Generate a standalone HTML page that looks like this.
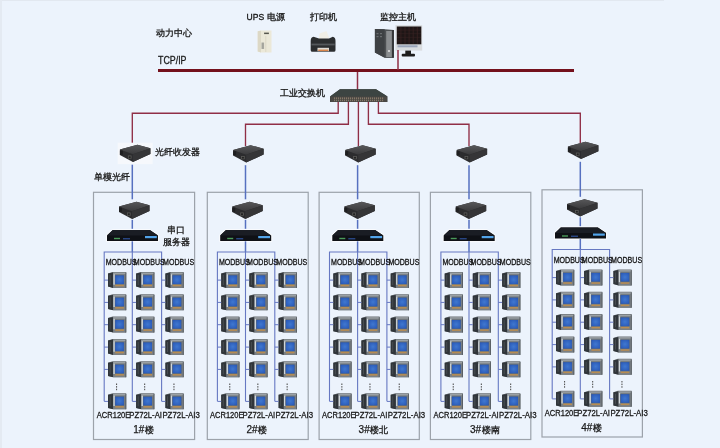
<!DOCTYPE html>
<html><head><meta charset="utf-8"><style>
html,body{margin:0;padding:0;background:#ECF3FC;}
svg{position:absolute;left:0;top:0;font-family:"Liberation Sans",sans-serif;will-change:transform;}
</style></head><body>
<svg width="720" height="448" viewBox="0 0 720 448">
<defs><linearGradient id="ftg" x1="0" y1="0" x2="0" y2="1"><stop offset="0" stop-color="#58585a"/><stop offset="1" stop-color="#3a3a3c"/></linearGradient><radialGradient id="scr" cx="0.5" cy="0.5" r="0.6"><stop offset="0" stop-color="#4078d0"/><stop offset="1" stop-color="#2a5ab8"/></radialGradient></defs>
<rect x="0" y="0" width="664" height="1" fill="#e2e8f0"/><rect x="0" y="0" width="2" height="448" fill="#e4eaf2"/><text x="156" y="35.5" font-size="9" text-anchor="start" font-weight="normal" fill="#1a1a1a" stroke="#1a1a1a" stroke-width="0.32">动力中心</text><text x="246.6" y="19.6" font-size="9.2" text-anchor="start" font-weight="normal" fill="#1a1a1a" stroke="#1a1a1a" stroke-width="0.35" textLength="17.6" lengthAdjust="spacingAndGlyphs">UPS</text><text x="267" y="20" font-size="9" text-anchor="start" font-weight="normal" fill="#1a1a1a" stroke="#1a1a1a" stroke-width="0.32">电源</text><text x="310" y="20" font-size="9" text-anchor="start" font-weight="normal" fill="#1a1a1a" stroke="#1a1a1a" stroke-width="0.32">打印机</text><text x="379.5" y="20" font-size="9" text-anchor="start" font-weight="normal" fill="#1a1a1a" stroke="#1a1a1a" stroke-width="0.32">监控主机</text><text x="158" y="64.2" font-size="10.3" text-anchor="start" font-weight="normal" fill="#1a1a1a" stroke="#1a1a1a" stroke-width="0.3" textLength="28.5" lengthAdjust="spacingAndGlyphs">TCP/IP</text><text x="279.5" y="95.5" font-size="9" text-anchor="start" font-weight="normal" fill="#1a1a1a" stroke="#1a1a1a" stroke-width="0.32">工业交换机</text><polygon points="257.7,31.2 260.5,30.4 271.5,30.6 271.5,52.5 261,52.5 257.7,51.6" fill="#ebe8d8"/><polygon points="257.7,31.2 261,30.8 261,52.5 257.7,51.6" fill="#dcd8c6"/><rect x="264.1" y="32.6" width="4.8" height="1.5" fill="#56564e"/><rect x="261.5" y="42.5" width="2.6" height="6.5" fill="#b4b4ac"/><line x1="262.3" y1="42.8" x2="262.3" y2="48.8" stroke="#8a8a84" stroke-width="0.4"/><line x1="263.3" y1="42.8" x2="263.3" y2="48.8" stroke="#8a8a84" stroke-width="0.4"/><line x1="265.8" y1="36" x2="265.8" y2="52" stroke="#d0ccb8" stroke-width="0.6"/><polygon points="319.5,33.5 326.5,31 329.5,38.5 319,39.5" fill="#f0eee6"/><path d="M310.7,41 Q310.7,37.2 313.5,36.8 L319,38.6 L329,38.6 L332.8,36.8 Q335.5,37.2 335.5,41 L335.5,50.2 Q335.5,51.8 333.8,51.8 L312.4,51.8 Q310.7,51.8 310.7,50.2 Z" fill="#2c2e30"/><rect x="311.5" y="43.6" width="23.2" height="1.8" fill="#55595c"/><rect x="317.5" y="47.8" width="11.5" height="3.4" fill="#dedcd6"/><rect x="318.2" y="49.6" width="10.2" height="1.3" fill="#d87a3a"/><polygon points="374.9,29.1 384.7,29.3 393.7,30 393.7,57.7 384.7,57.7 374.9,52.4" fill="#4a4d50"/><polygon points="374.9,29.1 384.7,29.3 384.7,57.7 374.9,52.4" fill="#3e4144"/><rect x="376.5" y="33" width="2" height="1.2" fill="#6a6d70"/><rect x="380" y="33" width="2" height="1.2" fill="#6a6d70"/><rect x="376.5" y="36" width="2" height="1.2" fill="#6a6d70"/><rect x="380" y="36" width="2" height="1.2" fill="#6a6d70"/><rect x="384.7" y="30" width="9" height="27.7" fill="#4e5154"/><rect x="386.2" y="31" width="5.6" height="26" fill="#8a8d90"/><rect x="392.3" y="30" width="1.4" height="27.7" fill="#2a2c2e"/><circle cx="389" cy="51" r="1.1" fill="#e0e0e0"/><rect x="395.4" y="25.1" width="26.8" height="25.5" fill="#d9dcdf"/><rect x="396.8" y="26.5" width="24.5" height="17.8" fill="#1e1616"/><line x1="400.9" y1="27" x2="400.9" y2="44" stroke="#4a2a2a" stroke-width="0.5"/><line x1="405.0" y1="27" x2="405.0" y2="44" stroke="#4a2a2a" stroke-width="0.5"/><line x1="409.1" y1="27" x2="409.1" y2="44" stroke="#4a2a2a" stroke-width="0.5"/><line x1="413.2" y1="27" x2="413.2" y2="44" stroke="#4a2a2a" stroke-width="0.5"/><line x1="417.3" y1="27" x2="417.3" y2="44" stroke="#4a2a2a" stroke-width="0.5"/><line x1="397" y1="30.1" x2="421" y2="30.1" stroke="#3a2424" stroke-width="0.5"/><line x1="397" y1="33.7" x2="421" y2="33.7" stroke="#3a2424" stroke-width="0.5"/><line x1="397" y1="37.3" x2="421" y2="37.3" stroke="#3a2424" stroke-width="0.5"/><line x1="397" y1="40.9" x2="421" y2="40.9" stroke="#3a2424" stroke-width="0.5"/><rect x="397.5" y="45.3" width="20" height="2" fill="#9aa4b8"/><rect x="405.3" y="50.6" width="5.7" height="3.5" fill="#1e1e1e"/><rect x="401.7" y="53.7" width="13.3" height="2.7" rx="1" fill="#1e1e1e"/><rect x="158" y="69" width="416" height="3" fill="#74101c"/><line x1="398" y1="50" x2="398" y2="70" stroke="#902e46" stroke-width="1.5"/><line x1="357.5" y1="72" x2="357.5" y2="90" stroke="#902e46" stroke-width="1.5"/><polygon points="340.00,89.20 376.00,89.20 387.50,96.50 387.50,102.00 330.00,102.00 330.00,96.50" fill="#3a3e3c"/><polygon points="340.00,89.20 376.00,89.20 387.50,96.50 330.00,96.50" fill="#3c4442"/><rect x="330.50" y="96.50" width="56.5" height="5.5" fill="#4a4844"/><rect x="334.00" y="97.40" width="1.1" height="1.6" fill="#857868"/><rect x="334.00" y="99.60" width="1.1" height="1.6" fill="#857868"/><rect x="336.00" y="97.40" width="1.1" height="1.6" fill="#857868"/><rect x="336.00" y="99.60" width="1.1" height="1.6" fill="#857868"/><rect x="338.00" y="97.40" width="1.1" height="1.6" fill="#857868"/><rect x="338.00" y="99.60" width="1.1" height="1.6" fill="#857868"/><rect x="340.00" y="97.40" width="1.1" height="1.6" fill="#857868"/><rect x="340.00" y="99.60" width="1.1" height="1.6" fill="#857868"/><rect x="342.00" y="97.40" width="1.1" height="1.6" fill="#857868"/><rect x="342.00" y="99.60" width="1.1" height="1.6" fill="#857868"/><rect x="344.00" y="97.40" width="1.1" height="1.6" fill="#857868"/><rect x="344.00" y="99.60" width="1.1" height="1.6" fill="#857868"/><rect x="346.00" y="97.40" width="1.1" height="1.6" fill="#857868"/><rect x="346.00" y="99.60" width="1.1" height="1.6" fill="#857868"/><rect x="348.00" y="97.40" width="1.1" height="1.6" fill="#857868"/><rect x="348.00" y="99.60" width="1.1" height="1.6" fill="#857868"/><rect x="350.00" y="97.40" width="1.1" height="1.6" fill="#857868"/><rect x="350.00" y="99.60" width="1.1" height="1.6" fill="#857868"/><rect x="352.00" y="97.40" width="1.1" height="1.6" fill="#857868"/><rect x="352.00" y="99.60" width="1.1" height="1.6" fill="#857868"/><rect x="354.00" y="97.40" width="1.1" height="1.6" fill="#857868"/><rect x="354.00" y="99.60" width="1.1" height="1.6" fill="#857868"/><rect x="356.00" y="97.40" width="1.1" height="1.6" fill="#857868"/><rect x="356.00" y="99.60" width="1.1" height="1.6" fill="#857868"/><rect x="358.00" y="97.40" width="1.1" height="1.6" fill="#857868"/><rect x="358.00" y="99.60" width="1.1" height="1.6" fill="#857868"/><rect x="360.00" y="97.40" width="1.1" height="1.6" fill="#857868"/><rect x="360.00" y="99.60" width="1.1" height="1.6" fill="#857868"/><rect x="362.00" y="97.40" width="1.1" height="1.6" fill="#857868"/><rect x="362.00" y="99.60" width="1.1" height="1.6" fill="#857868"/><rect x="364.00" y="97.40" width="1.1" height="1.6" fill="#857868"/><rect x="364.00" y="99.60" width="1.1" height="1.6" fill="#857868"/><rect x="366.00" y="97.40" width="1.1" height="1.6" fill="#857868"/><rect x="366.00" y="99.60" width="1.1" height="1.6" fill="#857868"/><rect x="368.00" y="97.40" width="1.1" height="1.6" fill="#857868"/><rect x="368.00" y="99.60" width="1.1" height="1.6" fill="#857868"/><rect x="370.00" y="97.40" width="1.1" height="1.6" fill="#857868"/><rect x="370.00" y="99.60" width="1.1" height="1.6" fill="#857868"/><rect x="372.00" y="97.40" width="1.1" height="1.6" fill="#857868"/><rect x="372.00" y="99.60" width="1.1" height="1.6" fill="#857868"/><rect x="374.00" y="97.40" width="1.1" height="1.6" fill="#857868"/><rect x="374.00" y="99.60" width="1.1" height="1.6" fill="#857868"/><rect x="376.00" y="97.40" width="1.1" height="1.6" fill="#857868"/><rect x="376.00" y="99.60" width="1.1" height="1.6" fill="#857868"/><rect x="378.00" y="97.40" width="1.1" height="1.6" fill="#857868"/><rect x="378.00" y="99.60" width="1.1" height="1.6" fill="#857868"/><rect x="380.00" y="97.40" width="1.1" height="1.6" fill="#857868"/><rect x="380.00" y="99.60" width="1.1" height="1.6" fill="#857868"/><rect x="382.00" y="97.40" width="1.1" height="1.6" fill="#857868"/><rect x="382.00" y="99.60" width="1.1" height="1.6" fill="#857868"/><polyline points="338.2,102 338.2,113.2 132.3,113.2 132.3,145" fill="none" stroke="#902e46" stroke-width="1.35"/><polyline points="348.4,102 348.4,124.2 245.5,124.2 245.5,146" fill="none" stroke="#902e46" stroke-width="1.35"/><line x1="358.4" y1="102" x2="358.4" y2="146" stroke="#902e46" stroke-width="1.35"/><polyline points="368.4,102 368.4,124.2 469.0,124.2 469.0,146" fill="none" stroke="#902e46" stroke-width="1.35"/><polyline points="378.4,102 378.4,113.2 580.3,113.2 580.3,143" fill="none" stroke="#902e46" stroke-width="1.35"/><text x="155" y="154.5" font-size="9" text-anchor="start" font-weight="normal" fill="#1a1a1a" stroke="#1a1a1a" stroke-width="0.32">光纤收发器</text><text x="94" y="179.5" font-size="9" text-anchor="start" font-weight="normal" fill="#1a1a1a" stroke="#1a1a1a" stroke-width="0.32">单模光纤</text><rect x="117.60" y="142.70" width="35.10" height="21.50" fill="#f6f8fc"/><polygon points="119.90,149.40 137.40,144.70 150.40,148.20 150.40,154.10 132.90,161.90 119.90,154.90" fill="#2c2c2e"/><polygon points="119.90,149.40 137.40,144.70 150.40,148.20 132.90,154.20" fill="url(#ftg)"/><polygon points="132.90,154.20 150.40,148.20 150.40,154.10 132.90,161.90" fill="#353537"/><rect x="119.90" y="150.70" width="3.00" height="4.00" fill="#1e1e20"/><rect x="127.90" y="155.50" width="3.60" height="3.20" fill="#5a5a58"/><rect x="128.70" y="156.30" width="2.00" height="1.80" fill="#222"/><rect x="93.5" y="192.3" width="101.10" height="247.2" fill="none" stroke="#9ca2aa" stroke-width="1.2"/><line x1="132.3" y1="164.7" x2="132.3" y2="199.3" stroke="#5670c0" stroke-width="1.5"/><polygon points="119.00,206.40 136.50,201.70 149.50,205.20 149.50,211.10 132.00,218.90 119.00,211.90" fill="#2c2c2e"/><polygon points="119.00,206.40 136.50,201.70 149.50,205.20 132.00,211.20" fill="url(#ftg)"/><polygon points="132.00,211.20 149.50,205.20 149.50,211.10 132.00,218.90" fill="#353537"/><rect x="119.00" y="207.70" width="3.00" height="4.00" fill="#1e1e20"/><rect x="127.00" y="212.50" width="3.60" height="3.20" fill="#5a5a58"/><rect x="127.80" y="213.30" width="2.00" height="1.80" fill="#222"/><line x1="132.3" y1="219.8" x2="132.3" y2="228.8" stroke="#5670c0" stroke-width="1.5"/><polygon points="112.80,230.10 149.80,230.10 158.00,235.50 158.00,241.10 107.00,241.10 107.00,235.50" fill="#f8fafd" stroke="#f8fafd" stroke-width="2.2" stroke-linejoin="round"/><polygon points="112.80,230.10 149.80,230.10 158.00,235.50 158.00,241.10 107.00,241.10 107.00,235.50" fill="#0f1116"/><polygon points="112.80,230.10 149.80,230.10 158.00,235.50 107.00,235.50" fill="#1a1d24"/><rect x="114.00" y="237.80" width="6.00" height="1.4" fill="#4a9a5a"/><rect x="123.00" y="238.10" width="7.00" height="1.3" fill="#2c4c8e"/><rect x="145.00" y="236.00" width="11.80" height="2.2" fill="#52a4ea"/><line x1="132.3" y1="241.3" x2="132.3" y2="252.0" stroke="#5670c0" stroke-width="1.5"/><polyline points="104.20000000000002,401.3 104.20000000000002,252.0 161.60000000000002,252.0 161.60000000000002,401.3" fill="none" stroke="#6678c2" stroke-width="1.1"/><line x1="132.3" y1="252.0" x2="132.3" y2="401.3" stroke="#6678c2" stroke-width="1.1"/><text x="105.70000000000002" y="265.3" font-size="9" text-anchor="start" font-weight="normal" fill="#111" stroke="#111" stroke-width="0.3" textLength="31" lengthAdjust="spacingAndGlyphs">MODBUS</text><text x="133.8" y="265.3" font-size="9" text-anchor="start" font-weight="normal" fill="#111" stroke="#111" stroke-width="0.3" textLength="31" lengthAdjust="spacingAndGlyphs">MODBUS</text><text x="163.10000000000002" y="265.3" font-size="9" text-anchor="start" font-weight="normal" fill="#111" stroke="#111" stroke-width="0.3" textLength="31" lengthAdjust="spacingAndGlyphs">MODBUS</text><polygon points="108.00,273.50 112.50,272.00 126.20,272.00 126.20,287.90 113.50,288.00 108.00,286.60" fill="#686e72"/><polygon points="108.00,273.50 113.20,272.60 113.20,288.00 108.00,286.60" fill="#30353a"/><rect x="109.60" y="275.00" width="0.9" height="10" fill="#4a5054"/><rect x="113.20" y="272.60" width="13" height="15.3" fill="#7a8085"/><rect x="113.20" y="272.60" width="13" height="1.4" fill="#9aa0a4"/><rect x="113.40" y="274.20" width="1.4" height="10.5" fill="#d0d6da"/><rect x="114.90" y="275.10" width="9.3" height="9.2" fill="#5a6470"/><rect x="115.20" y="275.40" width="8.7" height="8.6" fill="url(#scr)"/><rect x="115.30" y="284.80" width="8.6" height="1.5" fill="#b88c52"/><rect x="125.40" y="272.60" width="0.8" height="15.3" fill="#54595e"/><line x1="104.20000000000002" y1="280.1" x2="108.00000000000001" y2="280.1" stroke="#6678c2" stroke-width="1"/><polygon points="108.00,295.80 112.50,294.30 126.20,294.30 126.20,310.20 113.50,310.30 108.00,308.90" fill="#686e72"/><polygon points="108.00,295.80 113.20,294.90 113.20,310.30 108.00,308.90" fill="#30353a"/><rect x="109.60" y="297.30" width="0.9" height="10" fill="#4a5054"/><rect x="113.20" y="294.90" width="13" height="15.3" fill="#7a8085"/><rect x="113.20" y="294.90" width="13" height="1.4" fill="#9aa0a4"/><rect x="113.40" y="296.50" width="1.4" height="10.5" fill="#d0d6da"/><rect x="114.90" y="297.40" width="9.3" height="9.2" fill="#5a6470"/><rect x="115.20" y="297.70" width="8.7" height="8.6" fill="url(#scr)"/><rect x="115.30" y="307.10" width="8.6" height="1.5" fill="#b88c52"/><rect x="125.40" y="294.90" width="0.8" height="15.3" fill="#54595e"/><line x1="104.20000000000002" y1="302.40000000000003" x2="108.00000000000001" y2="302.40000000000003" stroke="#6678c2" stroke-width="1"/><polygon points="108.00,318.10 112.50,316.60 126.20,316.60 126.20,332.50 113.50,332.60 108.00,331.20" fill="#686e72"/><polygon points="108.00,318.10 113.20,317.20 113.20,332.60 108.00,331.20" fill="#30353a"/><rect x="109.60" y="319.60" width="0.9" height="10" fill="#4a5054"/><rect x="113.20" y="317.20" width="13" height="15.3" fill="#7a8085"/><rect x="113.20" y="317.20" width="13" height="1.4" fill="#9aa0a4"/><rect x="113.40" y="318.80" width="1.4" height="10.5" fill="#d0d6da"/><rect x="114.90" y="319.70" width="9.3" height="9.2" fill="#5a6470"/><rect x="115.20" y="320.00" width="8.7" height="8.6" fill="url(#scr)"/><rect x="115.30" y="329.40" width="8.6" height="1.5" fill="#b88c52"/><rect x="125.40" y="317.20" width="0.8" height="15.3" fill="#54595e"/><line x1="104.20000000000002" y1="324.70000000000005" x2="108.00000000000001" y2="324.70000000000005" stroke="#6678c2" stroke-width="1"/><polygon points="108.00,340.50 112.50,339.00 126.20,339.00 126.20,354.90 113.50,355.00 108.00,353.60" fill="#686e72"/><polygon points="108.00,340.50 113.20,339.60 113.20,355.00 108.00,353.60" fill="#30353a"/><rect x="109.60" y="342.00" width="0.9" height="10" fill="#4a5054"/><rect x="113.20" y="339.60" width="13" height="15.3" fill="#7a8085"/><rect x="113.20" y="339.60" width="13" height="1.4" fill="#9aa0a4"/><rect x="113.40" y="341.20" width="1.4" height="10.5" fill="#d0d6da"/><rect x="114.90" y="342.10" width="9.3" height="9.2" fill="#5a6470"/><rect x="115.20" y="342.40" width="8.7" height="8.6" fill="url(#scr)"/><rect x="115.30" y="351.80" width="8.6" height="1.5" fill="#b88c52"/><rect x="125.40" y="339.60" width="0.8" height="15.3" fill="#54595e"/><line x1="104.20000000000002" y1="347.1" x2="108.00000000000001" y2="347.1" stroke="#6678c2" stroke-width="1"/><polygon points="108.00,362.80 112.50,361.30 126.20,361.30 126.20,377.20 113.50,377.30 108.00,375.90" fill="#686e72"/><polygon points="108.00,362.80 113.20,361.90 113.20,377.30 108.00,375.90" fill="#30353a"/><rect x="109.60" y="364.30" width="0.9" height="10" fill="#4a5054"/><rect x="113.20" y="361.90" width="13" height="15.3" fill="#7a8085"/><rect x="113.20" y="361.90" width="13" height="1.4" fill="#9aa0a4"/><rect x="113.40" y="363.50" width="1.4" height="10.5" fill="#d0d6da"/><rect x="114.90" y="364.40" width="9.3" height="9.2" fill="#5a6470"/><rect x="115.20" y="364.70" width="8.7" height="8.6" fill="url(#scr)"/><rect x="115.30" y="374.10" width="8.6" height="1.5" fill="#b88c52"/><rect x="125.40" y="361.90" width="0.8" height="15.3" fill="#54595e"/><line x1="104.20000000000002" y1="369.40000000000003" x2="108.00000000000001" y2="369.40000000000003" stroke="#6678c2" stroke-width="1"/><polygon points="108.00,394.80 112.50,393.30 126.20,393.30 126.20,409.20 113.50,409.30 108.00,407.90" fill="#686e72"/><polygon points="108.00,394.80 113.20,393.90 113.20,409.30 108.00,407.90" fill="#30353a"/><rect x="109.60" y="396.30" width="0.9" height="10" fill="#4a5054"/><rect x="113.20" y="393.90" width="13" height="15.3" fill="#7a8085"/><rect x="113.20" y="393.90" width="13" height="1.4" fill="#9aa0a4"/><rect x="113.40" y="395.50" width="1.4" height="10.5" fill="#d0d6da"/><rect x="114.90" y="396.40" width="9.3" height="9.2" fill="#5a6470"/><rect x="115.20" y="396.70" width="8.7" height="8.6" fill="url(#scr)"/><rect x="115.30" y="406.10" width="8.6" height="1.5" fill="#b88c52"/><rect x="125.40" y="393.90" width="0.8" height="15.3" fill="#54595e"/><line x1="104.20000000000002" y1="401.40000000000003" x2="108.00000000000001" y2="401.40000000000003" stroke="#6678c2" stroke-width="1"/><rect x="116.00" y="383.50" width="1.1" height="1.5" fill="#555"/><rect x="116.00" y="386.10" width="1.1" height="1.5" fill="#555"/><rect x="116.00" y="388.70" width="1.1" height="1.5" fill="#555"/><polygon points="136.10,273.50 140.60,272.00 154.30,272.00 154.30,287.90 141.60,288.00 136.10,286.60" fill="#686e72"/><polygon points="136.10,273.50 141.30,272.60 141.30,288.00 136.10,286.60" fill="#30353a"/><rect x="137.70" y="275.00" width="0.9" height="10" fill="#4a5054"/><rect x="141.30" y="272.60" width="13" height="15.3" fill="#7a8085"/><rect x="141.30" y="272.60" width="13" height="1.4" fill="#9aa0a4"/><rect x="141.50" y="274.20" width="1.4" height="10.5" fill="#d0d6da"/><rect x="143.00" y="275.10" width="9.3" height="9.2" fill="#5a6470"/><rect x="143.30" y="275.40" width="8.7" height="8.6" fill="url(#scr)"/><rect x="143.40" y="284.80" width="8.6" height="1.5" fill="#b88c52"/><rect x="153.50" y="272.60" width="0.8" height="15.3" fill="#54595e"/><line x1="132.3" y1="280.1" x2="136.10000000000002" y2="280.1" stroke="#6678c2" stroke-width="1"/><polygon points="136.10,295.80 140.60,294.30 154.30,294.30 154.30,310.20 141.60,310.30 136.10,308.90" fill="#686e72"/><polygon points="136.10,295.80 141.30,294.90 141.30,310.30 136.10,308.90" fill="#30353a"/><rect x="137.70" y="297.30" width="0.9" height="10" fill="#4a5054"/><rect x="141.30" y="294.90" width="13" height="15.3" fill="#7a8085"/><rect x="141.30" y="294.90" width="13" height="1.4" fill="#9aa0a4"/><rect x="141.50" y="296.50" width="1.4" height="10.5" fill="#d0d6da"/><rect x="143.00" y="297.40" width="9.3" height="9.2" fill="#5a6470"/><rect x="143.30" y="297.70" width="8.7" height="8.6" fill="url(#scr)"/><rect x="143.40" y="307.10" width="8.6" height="1.5" fill="#b88c52"/><rect x="153.50" y="294.90" width="0.8" height="15.3" fill="#54595e"/><line x1="132.3" y1="302.40000000000003" x2="136.10000000000002" y2="302.40000000000003" stroke="#6678c2" stroke-width="1"/><polygon points="136.10,318.10 140.60,316.60 154.30,316.60 154.30,332.50 141.60,332.60 136.10,331.20" fill="#686e72"/><polygon points="136.10,318.10 141.30,317.20 141.30,332.60 136.10,331.20" fill="#30353a"/><rect x="137.70" y="319.60" width="0.9" height="10" fill="#4a5054"/><rect x="141.30" y="317.20" width="13" height="15.3" fill="#7a8085"/><rect x="141.30" y="317.20" width="13" height="1.4" fill="#9aa0a4"/><rect x="141.50" y="318.80" width="1.4" height="10.5" fill="#d0d6da"/><rect x="143.00" y="319.70" width="9.3" height="9.2" fill="#5a6470"/><rect x="143.30" y="320.00" width="8.7" height="8.6" fill="url(#scr)"/><rect x="143.40" y="329.40" width="8.6" height="1.5" fill="#b88c52"/><rect x="153.50" y="317.20" width="0.8" height="15.3" fill="#54595e"/><line x1="132.3" y1="324.70000000000005" x2="136.10000000000002" y2="324.70000000000005" stroke="#6678c2" stroke-width="1"/><polygon points="136.10,340.50 140.60,339.00 154.30,339.00 154.30,354.90 141.60,355.00 136.10,353.60" fill="#686e72"/><polygon points="136.10,340.50 141.30,339.60 141.30,355.00 136.10,353.60" fill="#30353a"/><rect x="137.70" y="342.00" width="0.9" height="10" fill="#4a5054"/><rect x="141.30" y="339.60" width="13" height="15.3" fill="#7a8085"/><rect x="141.30" y="339.60" width="13" height="1.4" fill="#9aa0a4"/><rect x="141.50" y="341.20" width="1.4" height="10.5" fill="#d0d6da"/><rect x="143.00" y="342.10" width="9.3" height="9.2" fill="#5a6470"/><rect x="143.30" y="342.40" width="8.7" height="8.6" fill="url(#scr)"/><rect x="143.40" y="351.80" width="8.6" height="1.5" fill="#b88c52"/><rect x="153.50" y="339.60" width="0.8" height="15.3" fill="#54595e"/><line x1="132.3" y1="347.1" x2="136.10000000000002" y2="347.1" stroke="#6678c2" stroke-width="1"/><polygon points="136.10,362.80 140.60,361.30 154.30,361.30 154.30,377.20 141.60,377.30 136.10,375.90" fill="#686e72"/><polygon points="136.10,362.80 141.30,361.90 141.30,377.30 136.10,375.90" fill="#30353a"/><rect x="137.70" y="364.30" width="0.9" height="10" fill="#4a5054"/><rect x="141.30" y="361.90" width="13" height="15.3" fill="#7a8085"/><rect x="141.30" y="361.90" width="13" height="1.4" fill="#9aa0a4"/><rect x="141.50" y="363.50" width="1.4" height="10.5" fill="#d0d6da"/><rect x="143.00" y="364.40" width="9.3" height="9.2" fill="#5a6470"/><rect x="143.30" y="364.70" width="8.7" height="8.6" fill="url(#scr)"/><rect x="143.40" y="374.10" width="8.6" height="1.5" fill="#b88c52"/><rect x="153.50" y="361.90" width="0.8" height="15.3" fill="#54595e"/><line x1="132.3" y1="369.40000000000003" x2="136.10000000000002" y2="369.40000000000003" stroke="#6678c2" stroke-width="1"/><polygon points="136.10,394.80 140.60,393.30 154.30,393.30 154.30,409.20 141.60,409.30 136.10,407.90" fill="#686e72"/><polygon points="136.10,394.80 141.30,393.90 141.30,409.30 136.10,407.90" fill="#30353a"/><rect x="137.70" y="396.30" width="0.9" height="10" fill="#4a5054"/><rect x="141.30" y="393.90" width="13" height="15.3" fill="#7a8085"/><rect x="141.30" y="393.90" width="13" height="1.4" fill="#9aa0a4"/><rect x="141.50" y="395.50" width="1.4" height="10.5" fill="#d0d6da"/><rect x="143.00" y="396.40" width="9.3" height="9.2" fill="#5a6470"/><rect x="143.30" y="396.70" width="8.7" height="8.6" fill="url(#scr)"/><rect x="143.40" y="406.10" width="8.6" height="1.5" fill="#b88c52"/><rect x="153.50" y="393.90" width="0.8" height="15.3" fill="#54595e"/><line x1="132.3" y1="401.40000000000003" x2="136.10000000000002" y2="401.40000000000003" stroke="#6678c2" stroke-width="1"/><rect x="144.10" y="383.50" width="1.1" height="1.5" fill="#555"/><rect x="144.10" y="386.10" width="1.1" height="1.5" fill="#555"/><rect x="144.10" y="388.70" width="1.1" height="1.5" fill="#555"/><polygon points="165.40,273.50 169.90,272.00 183.60,272.00 183.60,287.90 170.90,288.00 165.40,286.60" fill="#686e72"/><polygon points="165.40,273.50 170.60,272.60 170.60,288.00 165.40,286.60" fill="#30353a"/><rect x="167.00" y="275.00" width="0.9" height="10" fill="#4a5054"/><rect x="170.60" y="272.60" width="13" height="15.3" fill="#7a8085"/><rect x="170.60" y="272.60" width="13" height="1.4" fill="#9aa0a4"/><rect x="170.80" y="274.20" width="1.4" height="10.5" fill="#d0d6da"/><rect x="172.30" y="275.10" width="9.3" height="9.2" fill="#5a6470"/><rect x="172.60" y="275.40" width="8.7" height="8.6" fill="url(#scr)"/><rect x="172.70" y="284.80" width="8.6" height="1.5" fill="#b88c52"/><rect x="182.80" y="272.60" width="0.8" height="15.3" fill="#54595e"/><line x1="161.60000000000002" y1="280.1" x2="165.40000000000003" y2="280.1" stroke="#6678c2" stroke-width="1"/><polygon points="165.40,295.80 169.90,294.30 183.60,294.30 183.60,310.20 170.90,310.30 165.40,308.90" fill="#686e72"/><polygon points="165.40,295.80 170.60,294.90 170.60,310.30 165.40,308.90" fill="#30353a"/><rect x="167.00" y="297.30" width="0.9" height="10" fill="#4a5054"/><rect x="170.60" y="294.90" width="13" height="15.3" fill="#7a8085"/><rect x="170.60" y="294.90" width="13" height="1.4" fill="#9aa0a4"/><rect x="170.80" y="296.50" width="1.4" height="10.5" fill="#d0d6da"/><rect x="172.30" y="297.40" width="9.3" height="9.2" fill="#5a6470"/><rect x="172.60" y="297.70" width="8.7" height="8.6" fill="url(#scr)"/><rect x="172.70" y="307.10" width="8.6" height="1.5" fill="#b88c52"/><rect x="182.80" y="294.90" width="0.8" height="15.3" fill="#54595e"/><line x1="161.60000000000002" y1="302.40000000000003" x2="165.40000000000003" y2="302.40000000000003" stroke="#6678c2" stroke-width="1"/><polygon points="165.40,318.10 169.90,316.60 183.60,316.60 183.60,332.50 170.90,332.60 165.40,331.20" fill="#686e72"/><polygon points="165.40,318.10 170.60,317.20 170.60,332.60 165.40,331.20" fill="#30353a"/><rect x="167.00" y="319.60" width="0.9" height="10" fill="#4a5054"/><rect x="170.60" y="317.20" width="13" height="15.3" fill="#7a8085"/><rect x="170.60" y="317.20" width="13" height="1.4" fill="#9aa0a4"/><rect x="170.80" y="318.80" width="1.4" height="10.5" fill="#d0d6da"/><rect x="172.30" y="319.70" width="9.3" height="9.2" fill="#5a6470"/><rect x="172.60" y="320.00" width="8.7" height="8.6" fill="url(#scr)"/><rect x="172.70" y="329.40" width="8.6" height="1.5" fill="#b88c52"/><rect x="182.80" y="317.20" width="0.8" height="15.3" fill="#54595e"/><line x1="161.60000000000002" y1="324.70000000000005" x2="165.40000000000003" y2="324.70000000000005" stroke="#6678c2" stroke-width="1"/><polygon points="165.40,340.50 169.90,339.00 183.60,339.00 183.60,354.90 170.90,355.00 165.40,353.60" fill="#686e72"/><polygon points="165.40,340.50 170.60,339.60 170.60,355.00 165.40,353.60" fill="#30353a"/><rect x="167.00" y="342.00" width="0.9" height="10" fill="#4a5054"/><rect x="170.60" y="339.60" width="13" height="15.3" fill="#7a8085"/><rect x="170.60" y="339.60" width="13" height="1.4" fill="#9aa0a4"/><rect x="170.80" y="341.20" width="1.4" height="10.5" fill="#d0d6da"/><rect x="172.30" y="342.10" width="9.3" height="9.2" fill="#5a6470"/><rect x="172.60" y="342.40" width="8.7" height="8.6" fill="url(#scr)"/><rect x="172.70" y="351.80" width="8.6" height="1.5" fill="#b88c52"/><rect x="182.80" y="339.60" width="0.8" height="15.3" fill="#54595e"/><line x1="161.60000000000002" y1="347.1" x2="165.40000000000003" y2="347.1" stroke="#6678c2" stroke-width="1"/><polygon points="165.40,362.80 169.90,361.30 183.60,361.30 183.60,377.20 170.90,377.30 165.40,375.90" fill="#686e72"/><polygon points="165.40,362.80 170.60,361.90 170.60,377.30 165.40,375.90" fill="#30353a"/><rect x="167.00" y="364.30" width="0.9" height="10" fill="#4a5054"/><rect x="170.60" y="361.90" width="13" height="15.3" fill="#7a8085"/><rect x="170.60" y="361.90" width="13" height="1.4" fill="#9aa0a4"/><rect x="170.80" y="363.50" width="1.4" height="10.5" fill="#d0d6da"/><rect x="172.30" y="364.40" width="9.3" height="9.2" fill="#5a6470"/><rect x="172.60" y="364.70" width="8.7" height="8.6" fill="url(#scr)"/><rect x="172.70" y="374.10" width="8.6" height="1.5" fill="#b88c52"/><rect x="182.80" y="361.90" width="0.8" height="15.3" fill="#54595e"/><line x1="161.60000000000002" y1="369.40000000000003" x2="165.40000000000003" y2="369.40000000000003" stroke="#6678c2" stroke-width="1"/><polygon points="165.40,394.80 169.90,393.30 183.60,393.30 183.60,409.20 170.90,409.30 165.40,407.90" fill="#686e72"/><polygon points="165.40,394.80 170.60,393.90 170.60,409.30 165.40,407.90" fill="#30353a"/><rect x="167.00" y="396.30" width="0.9" height="10" fill="#4a5054"/><rect x="170.60" y="393.90" width="13" height="15.3" fill="#7a8085"/><rect x="170.60" y="393.90" width="13" height="1.4" fill="#9aa0a4"/><rect x="170.80" y="395.50" width="1.4" height="10.5" fill="#d0d6da"/><rect x="172.30" y="396.40" width="9.3" height="9.2" fill="#5a6470"/><rect x="172.60" y="396.70" width="8.7" height="8.6" fill="url(#scr)"/><rect x="172.70" y="406.10" width="8.6" height="1.5" fill="#b88c52"/><rect x="182.80" y="393.90" width="0.8" height="15.3" fill="#54595e"/><line x1="161.60000000000002" y1="401.40000000000003" x2="165.40000000000003" y2="401.40000000000003" stroke="#6678c2" stroke-width="1"/><rect x="173.40" y="383.50" width="1.1" height="1.5" fill="#555"/><rect x="173.40" y="386.10" width="1.1" height="1.5" fill="#555"/><rect x="173.40" y="388.70" width="1.1" height="1.5" fill="#555"/><text x="96.80000000000001" y="418.4" font-size="9" text-anchor="start" font-weight="normal" fill="#1a1a1a" stroke="#1a1a1a" stroke-width="0.3" textLength="33.5" lengthAdjust="spacingAndGlyphs">ACR120E</text><text x="129.3" y="418.4" font-size="9" text-anchor="start" font-weight="normal" fill="#1a1a1a" stroke="#1a1a1a" stroke-width="0.3" textLength="32.7" lengthAdjust="spacingAndGlyphs">PZ72L-AI</text><text x="162.4" y="418.4" font-size="9" text-anchor="start" font-weight="normal" fill="#1a1a1a" stroke="#1a1a1a" stroke-width="0.3" textLength="37.5" lengthAdjust="spacingAndGlyphs">PZ72L-AI3</text><text x="133.3" y="433.3" font-size="10" text-anchor="start" font-weight="normal" fill="#1a1a1a" stroke="#1a1a1a" stroke-width="0.25">1#</text><text x="144.9" y="433.3" font-size="8.6" text-anchor="start" font-weight="normal" fill="#1a1a1a" stroke="#1a1a1a" stroke-width="0.32">楼</text><polygon points="233.10,149.90 250.60,145.20 263.60,148.70 263.60,154.60 246.10,162.40 233.10,155.40" fill="#2c2c2e"/><polygon points="233.10,149.90 250.60,145.20 263.60,148.70 246.10,154.70" fill="url(#ftg)"/><polygon points="246.10,154.70 263.60,148.70 263.60,154.60 246.10,162.40" fill="#353537"/><rect x="233.10" y="151.20" width="3.00" height="4.00" fill="#1e1e20"/><rect x="241.10" y="156.00" width="3.60" height="3.20" fill="#5a5a58"/><rect x="241.90" y="156.80" width="2.00" height="1.80" fill="#222"/><rect x="207.3" y="192.3" width="100.90" height="247.2" fill="none" stroke="#9ca2aa" stroke-width="1.2"/><line x1="245.5" y1="165.2" x2="245.5" y2="199.3" stroke="#5670c0" stroke-width="1.5"/><polygon points="232.20,206.40 249.70,201.70 262.70,205.20 262.70,211.10 245.20,218.90 232.20,211.90" fill="#2c2c2e"/><polygon points="232.20,206.40 249.70,201.70 262.70,205.20 245.20,211.20" fill="url(#ftg)"/><polygon points="245.20,211.20 262.70,205.20 262.70,211.10 245.20,218.90" fill="#353537"/><rect x="232.20" y="207.70" width="3.00" height="4.00" fill="#1e1e20"/><rect x="240.20" y="212.50" width="3.60" height="3.20" fill="#5a5a58"/><rect x="241.00" y="213.30" width="2.00" height="1.80" fill="#222"/><line x1="245.5" y1="219.8" x2="245.5" y2="228.8" stroke="#5670c0" stroke-width="1.5"/><polygon points="226.00,230.10 263.00,230.10 271.20,235.50 271.20,241.10 220.20,241.10 220.20,235.50" fill="#f8fafd" stroke="#f8fafd" stroke-width="2.2" stroke-linejoin="round"/><polygon points="226.00,230.10 263.00,230.10 271.20,235.50 271.20,241.10 220.20,241.10 220.20,235.50" fill="#0f1116"/><polygon points="226.00,230.10 263.00,230.10 271.20,235.50 220.20,235.50" fill="#1a1d24"/><rect x="227.20" y="237.80" width="6.00" height="1.4" fill="#4a9a5a"/><rect x="236.20" y="238.10" width="7.00" height="1.3" fill="#2c4c8e"/><rect x="258.20" y="236.00" width="11.80" height="2.2" fill="#52a4ea"/><line x1="245.5" y1="241.3" x2="245.5" y2="252.0" stroke="#5670c0" stroke-width="1.5"/><polyline points="217.4,401.3 217.4,252.0 274.8,252.0 274.8,401.3" fill="none" stroke="#6678c2" stroke-width="1.1"/><line x1="245.5" y1="252.0" x2="245.5" y2="401.3" stroke="#6678c2" stroke-width="1.1"/><text x="218.9" y="265.3" font-size="9" text-anchor="start" font-weight="normal" fill="#111" stroke="#111" stroke-width="0.3" textLength="31" lengthAdjust="spacingAndGlyphs">MODBUS</text><text x="247.0" y="265.3" font-size="9" text-anchor="start" font-weight="normal" fill="#111" stroke="#111" stroke-width="0.3" textLength="31" lengthAdjust="spacingAndGlyphs">MODBUS</text><text x="276.3" y="265.3" font-size="9" text-anchor="start" font-weight="normal" fill="#111" stroke="#111" stroke-width="0.3" textLength="31" lengthAdjust="spacingAndGlyphs">MODBUS</text><polygon points="221.20,273.50 225.70,272.00 239.40,272.00 239.40,287.90 226.70,288.00 221.20,286.60" fill="#686e72"/><polygon points="221.20,273.50 226.40,272.60 226.40,288.00 221.20,286.60" fill="#30353a"/><rect x="222.80" y="275.00" width="0.9" height="10" fill="#4a5054"/><rect x="226.40" y="272.60" width="13" height="15.3" fill="#7a8085"/><rect x="226.40" y="272.60" width="13" height="1.4" fill="#9aa0a4"/><rect x="226.60" y="274.20" width="1.4" height="10.5" fill="#d0d6da"/><rect x="228.10" y="275.10" width="9.3" height="9.2" fill="#5a6470"/><rect x="228.40" y="275.40" width="8.7" height="8.6" fill="url(#scr)"/><rect x="228.50" y="284.80" width="8.6" height="1.5" fill="#b88c52"/><rect x="238.60" y="272.60" width="0.8" height="15.3" fill="#54595e"/><line x1="217.4" y1="280.1" x2="221.20000000000002" y2="280.1" stroke="#6678c2" stroke-width="1"/><polygon points="221.20,295.80 225.70,294.30 239.40,294.30 239.40,310.20 226.70,310.30 221.20,308.90" fill="#686e72"/><polygon points="221.20,295.80 226.40,294.90 226.40,310.30 221.20,308.90" fill="#30353a"/><rect x="222.80" y="297.30" width="0.9" height="10" fill="#4a5054"/><rect x="226.40" y="294.90" width="13" height="15.3" fill="#7a8085"/><rect x="226.40" y="294.90" width="13" height="1.4" fill="#9aa0a4"/><rect x="226.60" y="296.50" width="1.4" height="10.5" fill="#d0d6da"/><rect x="228.10" y="297.40" width="9.3" height="9.2" fill="#5a6470"/><rect x="228.40" y="297.70" width="8.7" height="8.6" fill="url(#scr)"/><rect x="228.50" y="307.10" width="8.6" height="1.5" fill="#b88c52"/><rect x="238.60" y="294.90" width="0.8" height="15.3" fill="#54595e"/><line x1="217.4" y1="302.40000000000003" x2="221.20000000000002" y2="302.40000000000003" stroke="#6678c2" stroke-width="1"/><polygon points="221.20,318.10 225.70,316.60 239.40,316.60 239.40,332.50 226.70,332.60 221.20,331.20" fill="#686e72"/><polygon points="221.20,318.10 226.40,317.20 226.40,332.60 221.20,331.20" fill="#30353a"/><rect x="222.80" y="319.60" width="0.9" height="10" fill="#4a5054"/><rect x="226.40" y="317.20" width="13" height="15.3" fill="#7a8085"/><rect x="226.40" y="317.20" width="13" height="1.4" fill="#9aa0a4"/><rect x="226.60" y="318.80" width="1.4" height="10.5" fill="#d0d6da"/><rect x="228.10" y="319.70" width="9.3" height="9.2" fill="#5a6470"/><rect x="228.40" y="320.00" width="8.7" height="8.6" fill="url(#scr)"/><rect x="228.50" y="329.40" width="8.6" height="1.5" fill="#b88c52"/><rect x="238.60" y="317.20" width="0.8" height="15.3" fill="#54595e"/><line x1="217.4" y1="324.70000000000005" x2="221.20000000000002" y2="324.70000000000005" stroke="#6678c2" stroke-width="1"/><polygon points="221.20,340.50 225.70,339.00 239.40,339.00 239.40,354.90 226.70,355.00 221.20,353.60" fill="#686e72"/><polygon points="221.20,340.50 226.40,339.60 226.40,355.00 221.20,353.60" fill="#30353a"/><rect x="222.80" y="342.00" width="0.9" height="10" fill="#4a5054"/><rect x="226.40" y="339.60" width="13" height="15.3" fill="#7a8085"/><rect x="226.40" y="339.60" width="13" height="1.4" fill="#9aa0a4"/><rect x="226.60" y="341.20" width="1.4" height="10.5" fill="#d0d6da"/><rect x="228.10" y="342.10" width="9.3" height="9.2" fill="#5a6470"/><rect x="228.40" y="342.40" width="8.7" height="8.6" fill="url(#scr)"/><rect x="228.50" y="351.80" width="8.6" height="1.5" fill="#b88c52"/><rect x="238.60" y="339.60" width="0.8" height="15.3" fill="#54595e"/><line x1="217.4" y1="347.1" x2="221.20000000000002" y2="347.1" stroke="#6678c2" stroke-width="1"/><polygon points="221.20,362.80 225.70,361.30 239.40,361.30 239.40,377.20 226.70,377.30 221.20,375.90" fill="#686e72"/><polygon points="221.20,362.80 226.40,361.90 226.40,377.30 221.20,375.90" fill="#30353a"/><rect x="222.80" y="364.30" width="0.9" height="10" fill="#4a5054"/><rect x="226.40" y="361.90" width="13" height="15.3" fill="#7a8085"/><rect x="226.40" y="361.90" width="13" height="1.4" fill="#9aa0a4"/><rect x="226.60" y="363.50" width="1.4" height="10.5" fill="#d0d6da"/><rect x="228.10" y="364.40" width="9.3" height="9.2" fill="#5a6470"/><rect x="228.40" y="364.70" width="8.7" height="8.6" fill="url(#scr)"/><rect x="228.50" y="374.10" width="8.6" height="1.5" fill="#b88c52"/><rect x="238.60" y="361.90" width="0.8" height="15.3" fill="#54595e"/><line x1="217.4" y1="369.40000000000003" x2="221.20000000000002" y2="369.40000000000003" stroke="#6678c2" stroke-width="1"/><polygon points="221.20,394.80 225.70,393.30 239.40,393.30 239.40,409.20 226.70,409.30 221.20,407.90" fill="#686e72"/><polygon points="221.20,394.80 226.40,393.90 226.40,409.30 221.20,407.90" fill="#30353a"/><rect x="222.80" y="396.30" width="0.9" height="10" fill="#4a5054"/><rect x="226.40" y="393.90" width="13" height="15.3" fill="#7a8085"/><rect x="226.40" y="393.90" width="13" height="1.4" fill="#9aa0a4"/><rect x="226.60" y="395.50" width="1.4" height="10.5" fill="#d0d6da"/><rect x="228.10" y="396.40" width="9.3" height="9.2" fill="#5a6470"/><rect x="228.40" y="396.70" width="8.7" height="8.6" fill="url(#scr)"/><rect x="228.50" y="406.10" width="8.6" height="1.5" fill="#b88c52"/><rect x="238.60" y="393.90" width="0.8" height="15.3" fill="#54595e"/><line x1="217.4" y1="401.40000000000003" x2="221.20000000000002" y2="401.40000000000003" stroke="#6678c2" stroke-width="1"/><rect x="229.20" y="383.50" width="1.1" height="1.5" fill="#555"/><rect x="229.20" y="386.10" width="1.1" height="1.5" fill="#555"/><rect x="229.20" y="388.70" width="1.1" height="1.5" fill="#555"/><polygon points="249.30,273.50 253.80,272.00 267.50,272.00 267.50,287.90 254.80,288.00 249.30,286.60" fill="#686e72"/><polygon points="249.30,273.50 254.50,272.60 254.50,288.00 249.30,286.60" fill="#30353a"/><rect x="250.90" y="275.00" width="0.9" height="10" fill="#4a5054"/><rect x="254.50" y="272.60" width="13" height="15.3" fill="#7a8085"/><rect x="254.50" y="272.60" width="13" height="1.4" fill="#9aa0a4"/><rect x="254.70" y="274.20" width="1.4" height="10.5" fill="#d0d6da"/><rect x="256.20" y="275.10" width="9.3" height="9.2" fill="#5a6470"/><rect x="256.50" y="275.40" width="8.7" height="8.6" fill="url(#scr)"/><rect x="256.60" y="284.80" width="8.6" height="1.5" fill="#b88c52"/><rect x="266.70" y="272.60" width="0.8" height="15.3" fill="#54595e"/><line x1="245.5" y1="280.1" x2="249.3" y2="280.1" stroke="#6678c2" stroke-width="1"/><polygon points="249.30,295.80 253.80,294.30 267.50,294.30 267.50,310.20 254.80,310.30 249.30,308.90" fill="#686e72"/><polygon points="249.30,295.80 254.50,294.90 254.50,310.30 249.30,308.90" fill="#30353a"/><rect x="250.90" y="297.30" width="0.9" height="10" fill="#4a5054"/><rect x="254.50" y="294.90" width="13" height="15.3" fill="#7a8085"/><rect x="254.50" y="294.90" width="13" height="1.4" fill="#9aa0a4"/><rect x="254.70" y="296.50" width="1.4" height="10.5" fill="#d0d6da"/><rect x="256.20" y="297.40" width="9.3" height="9.2" fill="#5a6470"/><rect x="256.50" y="297.70" width="8.7" height="8.6" fill="url(#scr)"/><rect x="256.60" y="307.10" width="8.6" height="1.5" fill="#b88c52"/><rect x="266.70" y="294.90" width="0.8" height="15.3" fill="#54595e"/><line x1="245.5" y1="302.40000000000003" x2="249.3" y2="302.40000000000003" stroke="#6678c2" stroke-width="1"/><polygon points="249.30,318.10 253.80,316.60 267.50,316.60 267.50,332.50 254.80,332.60 249.30,331.20" fill="#686e72"/><polygon points="249.30,318.10 254.50,317.20 254.50,332.60 249.30,331.20" fill="#30353a"/><rect x="250.90" y="319.60" width="0.9" height="10" fill="#4a5054"/><rect x="254.50" y="317.20" width="13" height="15.3" fill="#7a8085"/><rect x="254.50" y="317.20" width="13" height="1.4" fill="#9aa0a4"/><rect x="254.70" y="318.80" width="1.4" height="10.5" fill="#d0d6da"/><rect x="256.20" y="319.70" width="9.3" height="9.2" fill="#5a6470"/><rect x="256.50" y="320.00" width="8.7" height="8.6" fill="url(#scr)"/><rect x="256.60" y="329.40" width="8.6" height="1.5" fill="#b88c52"/><rect x="266.70" y="317.20" width="0.8" height="15.3" fill="#54595e"/><line x1="245.5" y1="324.70000000000005" x2="249.3" y2="324.70000000000005" stroke="#6678c2" stroke-width="1"/><polygon points="249.30,340.50 253.80,339.00 267.50,339.00 267.50,354.90 254.80,355.00 249.30,353.60" fill="#686e72"/><polygon points="249.30,340.50 254.50,339.60 254.50,355.00 249.30,353.60" fill="#30353a"/><rect x="250.90" y="342.00" width="0.9" height="10" fill="#4a5054"/><rect x="254.50" y="339.60" width="13" height="15.3" fill="#7a8085"/><rect x="254.50" y="339.60" width="13" height="1.4" fill="#9aa0a4"/><rect x="254.70" y="341.20" width="1.4" height="10.5" fill="#d0d6da"/><rect x="256.20" y="342.10" width="9.3" height="9.2" fill="#5a6470"/><rect x="256.50" y="342.40" width="8.7" height="8.6" fill="url(#scr)"/><rect x="256.60" y="351.80" width="8.6" height="1.5" fill="#b88c52"/><rect x="266.70" y="339.60" width="0.8" height="15.3" fill="#54595e"/><line x1="245.5" y1="347.1" x2="249.3" y2="347.1" stroke="#6678c2" stroke-width="1"/><polygon points="249.30,362.80 253.80,361.30 267.50,361.30 267.50,377.20 254.80,377.30 249.30,375.90" fill="#686e72"/><polygon points="249.30,362.80 254.50,361.90 254.50,377.30 249.30,375.90" fill="#30353a"/><rect x="250.90" y="364.30" width="0.9" height="10" fill="#4a5054"/><rect x="254.50" y="361.90" width="13" height="15.3" fill="#7a8085"/><rect x="254.50" y="361.90" width="13" height="1.4" fill="#9aa0a4"/><rect x="254.70" y="363.50" width="1.4" height="10.5" fill="#d0d6da"/><rect x="256.20" y="364.40" width="9.3" height="9.2" fill="#5a6470"/><rect x="256.50" y="364.70" width="8.7" height="8.6" fill="url(#scr)"/><rect x="256.60" y="374.10" width="8.6" height="1.5" fill="#b88c52"/><rect x="266.70" y="361.90" width="0.8" height="15.3" fill="#54595e"/><line x1="245.5" y1="369.40000000000003" x2="249.3" y2="369.40000000000003" stroke="#6678c2" stroke-width="1"/><polygon points="249.30,394.80 253.80,393.30 267.50,393.30 267.50,409.20 254.80,409.30 249.30,407.90" fill="#686e72"/><polygon points="249.30,394.80 254.50,393.90 254.50,409.30 249.30,407.90" fill="#30353a"/><rect x="250.90" y="396.30" width="0.9" height="10" fill="#4a5054"/><rect x="254.50" y="393.90" width="13" height="15.3" fill="#7a8085"/><rect x="254.50" y="393.90" width="13" height="1.4" fill="#9aa0a4"/><rect x="254.70" y="395.50" width="1.4" height="10.5" fill="#d0d6da"/><rect x="256.20" y="396.40" width="9.3" height="9.2" fill="#5a6470"/><rect x="256.50" y="396.70" width="8.7" height="8.6" fill="url(#scr)"/><rect x="256.60" y="406.10" width="8.6" height="1.5" fill="#b88c52"/><rect x="266.70" y="393.90" width="0.8" height="15.3" fill="#54595e"/><line x1="245.5" y1="401.40000000000003" x2="249.3" y2="401.40000000000003" stroke="#6678c2" stroke-width="1"/><rect x="257.30" y="383.50" width="1.1" height="1.5" fill="#555"/><rect x="257.30" y="386.10" width="1.1" height="1.5" fill="#555"/><rect x="257.30" y="388.70" width="1.1" height="1.5" fill="#555"/><polygon points="278.60,273.50 283.10,272.00 296.80,272.00 296.80,287.90 284.10,288.00 278.60,286.60" fill="#686e72"/><polygon points="278.60,273.50 283.80,272.60 283.80,288.00 278.60,286.60" fill="#30353a"/><rect x="280.20" y="275.00" width="0.9" height="10" fill="#4a5054"/><rect x="283.80" y="272.60" width="13" height="15.3" fill="#7a8085"/><rect x="283.80" y="272.60" width="13" height="1.4" fill="#9aa0a4"/><rect x="284.00" y="274.20" width="1.4" height="10.5" fill="#d0d6da"/><rect x="285.50" y="275.10" width="9.3" height="9.2" fill="#5a6470"/><rect x="285.80" y="275.40" width="8.7" height="8.6" fill="url(#scr)"/><rect x="285.90" y="284.80" width="8.6" height="1.5" fill="#b88c52"/><rect x="296.00" y="272.60" width="0.8" height="15.3" fill="#54595e"/><line x1="274.8" y1="280.1" x2="278.6" y2="280.1" stroke="#6678c2" stroke-width="1"/><polygon points="278.60,295.80 283.10,294.30 296.80,294.30 296.80,310.20 284.10,310.30 278.60,308.90" fill="#686e72"/><polygon points="278.60,295.80 283.80,294.90 283.80,310.30 278.60,308.90" fill="#30353a"/><rect x="280.20" y="297.30" width="0.9" height="10" fill="#4a5054"/><rect x="283.80" y="294.90" width="13" height="15.3" fill="#7a8085"/><rect x="283.80" y="294.90" width="13" height="1.4" fill="#9aa0a4"/><rect x="284.00" y="296.50" width="1.4" height="10.5" fill="#d0d6da"/><rect x="285.50" y="297.40" width="9.3" height="9.2" fill="#5a6470"/><rect x="285.80" y="297.70" width="8.7" height="8.6" fill="url(#scr)"/><rect x="285.90" y="307.10" width="8.6" height="1.5" fill="#b88c52"/><rect x="296.00" y="294.90" width="0.8" height="15.3" fill="#54595e"/><line x1="274.8" y1="302.40000000000003" x2="278.6" y2="302.40000000000003" stroke="#6678c2" stroke-width="1"/><polygon points="278.60,318.10 283.10,316.60 296.80,316.60 296.80,332.50 284.10,332.60 278.60,331.20" fill="#686e72"/><polygon points="278.60,318.10 283.80,317.20 283.80,332.60 278.60,331.20" fill="#30353a"/><rect x="280.20" y="319.60" width="0.9" height="10" fill="#4a5054"/><rect x="283.80" y="317.20" width="13" height="15.3" fill="#7a8085"/><rect x="283.80" y="317.20" width="13" height="1.4" fill="#9aa0a4"/><rect x="284.00" y="318.80" width="1.4" height="10.5" fill="#d0d6da"/><rect x="285.50" y="319.70" width="9.3" height="9.2" fill="#5a6470"/><rect x="285.80" y="320.00" width="8.7" height="8.6" fill="url(#scr)"/><rect x="285.90" y="329.40" width="8.6" height="1.5" fill="#b88c52"/><rect x="296.00" y="317.20" width="0.8" height="15.3" fill="#54595e"/><line x1="274.8" y1="324.70000000000005" x2="278.6" y2="324.70000000000005" stroke="#6678c2" stroke-width="1"/><polygon points="278.60,340.50 283.10,339.00 296.80,339.00 296.80,354.90 284.10,355.00 278.60,353.60" fill="#686e72"/><polygon points="278.60,340.50 283.80,339.60 283.80,355.00 278.60,353.60" fill="#30353a"/><rect x="280.20" y="342.00" width="0.9" height="10" fill="#4a5054"/><rect x="283.80" y="339.60" width="13" height="15.3" fill="#7a8085"/><rect x="283.80" y="339.60" width="13" height="1.4" fill="#9aa0a4"/><rect x="284.00" y="341.20" width="1.4" height="10.5" fill="#d0d6da"/><rect x="285.50" y="342.10" width="9.3" height="9.2" fill="#5a6470"/><rect x="285.80" y="342.40" width="8.7" height="8.6" fill="url(#scr)"/><rect x="285.90" y="351.80" width="8.6" height="1.5" fill="#b88c52"/><rect x="296.00" y="339.60" width="0.8" height="15.3" fill="#54595e"/><line x1="274.8" y1="347.1" x2="278.6" y2="347.1" stroke="#6678c2" stroke-width="1"/><polygon points="278.60,362.80 283.10,361.30 296.80,361.30 296.80,377.20 284.10,377.30 278.60,375.90" fill="#686e72"/><polygon points="278.60,362.80 283.80,361.90 283.80,377.30 278.60,375.90" fill="#30353a"/><rect x="280.20" y="364.30" width="0.9" height="10" fill="#4a5054"/><rect x="283.80" y="361.90" width="13" height="15.3" fill="#7a8085"/><rect x="283.80" y="361.90" width="13" height="1.4" fill="#9aa0a4"/><rect x="284.00" y="363.50" width="1.4" height="10.5" fill="#d0d6da"/><rect x="285.50" y="364.40" width="9.3" height="9.2" fill="#5a6470"/><rect x="285.80" y="364.70" width="8.7" height="8.6" fill="url(#scr)"/><rect x="285.90" y="374.10" width="8.6" height="1.5" fill="#b88c52"/><rect x="296.00" y="361.90" width="0.8" height="15.3" fill="#54595e"/><line x1="274.8" y1="369.40000000000003" x2="278.6" y2="369.40000000000003" stroke="#6678c2" stroke-width="1"/><polygon points="278.60,394.80 283.10,393.30 296.80,393.30 296.80,409.20 284.10,409.30 278.60,407.90" fill="#686e72"/><polygon points="278.60,394.80 283.80,393.90 283.80,409.30 278.60,407.90" fill="#30353a"/><rect x="280.20" y="396.30" width="0.9" height="10" fill="#4a5054"/><rect x="283.80" y="393.90" width="13" height="15.3" fill="#7a8085"/><rect x="283.80" y="393.90" width="13" height="1.4" fill="#9aa0a4"/><rect x="284.00" y="395.50" width="1.4" height="10.5" fill="#d0d6da"/><rect x="285.50" y="396.40" width="9.3" height="9.2" fill="#5a6470"/><rect x="285.80" y="396.70" width="8.7" height="8.6" fill="url(#scr)"/><rect x="285.90" y="406.10" width="8.6" height="1.5" fill="#b88c52"/><rect x="296.00" y="393.90" width="0.8" height="15.3" fill="#54595e"/><line x1="274.8" y1="401.40000000000003" x2="278.6" y2="401.40000000000003" stroke="#6678c2" stroke-width="1"/><rect x="286.60" y="383.50" width="1.1" height="1.5" fill="#555"/><rect x="286.60" y="386.10" width="1.1" height="1.5" fill="#555"/><rect x="286.60" y="388.70" width="1.1" height="1.5" fill="#555"/><text x="210.0" y="418.4" font-size="9" text-anchor="start" font-weight="normal" fill="#1a1a1a" stroke="#1a1a1a" stroke-width="0.3" textLength="33.5" lengthAdjust="spacingAndGlyphs">ACR120E</text><text x="242.5" y="418.4" font-size="9" text-anchor="start" font-weight="normal" fill="#1a1a1a" stroke="#1a1a1a" stroke-width="0.3" textLength="32.7" lengthAdjust="spacingAndGlyphs">PZ72L-AI</text><text x="275.6" y="418.4" font-size="9" text-anchor="start" font-weight="normal" fill="#1a1a1a" stroke="#1a1a1a" stroke-width="0.3" textLength="37.5" lengthAdjust="spacingAndGlyphs">PZ72L-AI3</text><text x="246.5" y="433.3" font-size="10" text-anchor="start" font-weight="normal" fill="#1a1a1a" stroke="#1a1a1a" stroke-width="0.25">2#</text><text x="258.1" y="433.3" font-size="8.6" text-anchor="start" font-weight="normal" fill="#1a1a1a" stroke="#1a1a1a" stroke-width="0.32">楼</text><polygon points="345.20,149.90 362.70,145.20 375.70,148.70 375.70,154.60 358.20,162.40 345.20,155.40" fill="#2c2c2e"/><polygon points="345.20,149.90 362.70,145.20 375.70,148.70 358.20,154.70" fill="url(#ftg)"/><polygon points="358.20,154.70 375.70,148.70 375.70,154.60 358.20,162.40" fill="#353537"/><rect x="345.20" y="151.20" width="3.00" height="4.00" fill="#1e1e20"/><rect x="353.20" y="156.00" width="3.60" height="3.20" fill="#5a5a58"/><rect x="354.00" y="156.80" width="2.00" height="1.80" fill="#222"/><rect x="319.1" y="192.3" width="100.20" height="247.2" fill="none" stroke="#9ca2aa" stroke-width="1.2"/><line x1="357.6" y1="165.2" x2="357.6" y2="199.3" stroke="#5670c0" stroke-width="1.5"/><polygon points="344.30,206.40 361.80,201.70 374.80,205.20 374.80,211.10 357.30,218.90 344.30,211.90" fill="#2c2c2e"/><polygon points="344.30,206.40 361.80,201.70 374.80,205.20 357.30,211.20" fill="url(#ftg)"/><polygon points="357.30,211.20 374.80,205.20 374.80,211.10 357.30,218.90" fill="#353537"/><rect x="344.30" y="207.70" width="3.00" height="4.00" fill="#1e1e20"/><rect x="352.30" y="212.50" width="3.60" height="3.20" fill="#5a5a58"/><rect x="353.10" y="213.30" width="2.00" height="1.80" fill="#222"/><line x1="357.6" y1="219.8" x2="357.6" y2="228.8" stroke="#5670c0" stroke-width="1.5"/><polygon points="338.10,230.10 375.10,230.10 383.30,235.50 383.30,241.10 332.30,241.10 332.30,235.50" fill="#f8fafd" stroke="#f8fafd" stroke-width="2.2" stroke-linejoin="round"/><polygon points="338.10,230.10 375.10,230.10 383.30,235.50 383.30,241.10 332.30,241.10 332.30,235.50" fill="#0f1116"/><polygon points="338.10,230.10 375.10,230.10 383.30,235.50 332.30,235.50" fill="#1a1d24"/><rect x="339.30" y="237.80" width="6.00" height="1.4" fill="#4a9a5a"/><rect x="348.30" y="238.10" width="7.00" height="1.3" fill="#2c4c8e"/><rect x="370.30" y="236.00" width="11.80" height="2.2" fill="#52a4ea"/><line x1="357.6" y1="241.3" x2="357.6" y2="252.0" stroke="#5670c0" stroke-width="1.5"/><polyline points="329.5,401.3 329.5,252.0 386.90000000000003,252.0 386.90000000000003,401.3" fill="none" stroke="#6678c2" stroke-width="1.1"/><line x1="357.6" y1="252.0" x2="357.6" y2="401.3" stroke="#6678c2" stroke-width="1.1"/><text x="331.0" y="265.3" font-size="9" text-anchor="start" font-weight="normal" fill="#111" stroke="#111" stroke-width="0.3" textLength="31" lengthAdjust="spacingAndGlyphs">MODBUS</text><text x="359.1" y="265.3" font-size="9" text-anchor="start" font-weight="normal" fill="#111" stroke="#111" stroke-width="0.3" textLength="31" lengthAdjust="spacingAndGlyphs">MODBUS</text><text x="388.40000000000003" y="265.3" font-size="9" text-anchor="start" font-weight="normal" fill="#111" stroke="#111" stroke-width="0.3" textLength="31" lengthAdjust="spacingAndGlyphs">MODBUS</text><polygon points="333.30,273.50 337.80,272.00 351.50,272.00 351.50,287.90 338.80,288.00 333.30,286.60" fill="#686e72"/><polygon points="333.30,273.50 338.50,272.60 338.50,288.00 333.30,286.60" fill="#30353a"/><rect x="334.90" y="275.00" width="0.9" height="10" fill="#4a5054"/><rect x="338.50" y="272.60" width="13" height="15.3" fill="#7a8085"/><rect x="338.50" y="272.60" width="13" height="1.4" fill="#9aa0a4"/><rect x="338.70" y="274.20" width="1.4" height="10.5" fill="#d0d6da"/><rect x="340.20" y="275.10" width="9.3" height="9.2" fill="#5a6470"/><rect x="340.50" y="275.40" width="8.7" height="8.6" fill="url(#scr)"/><rect x="340.60" y="284.80" width="8.6" height="1.5" fill="#b88c52"/><rect x="350.70" y="272.60" width="0.8" height="15.3" fill="#54595e"/><line x1="329.5" y1="280.1" x2="333.3" y2="280.1" stroke="#6678c2" stroke-width="1"/><polygon points="333.30,295.80 337.80,294.30 351.50,294.30 351.50,310.20 338.80,310.30 333.30,308.90" fill="#686e72"/><polygon points="333.30,295.80 338.50,294.90 338.50,310.30 333.30,308.90" fill="#30353a"/><rect x="334.90" y="297.30" width="0.9" height="10" fill="#4a5054"/><rect x="338.50" y="294.90" width="13" height="15.3" fill="#7a8085"/><rect x="338.50" y="294.90" width="13" height="1.4" fill="#9aa0a4"/><rect x="338.70" y="296.50" width="1.4" height="10.5" fill="#d0d6da"/><rect x="340.20" y="297.40" width="9.3" height="9.2" fill="#5a6470"/><rect x="340.50" y="297.70" width="8.7" height="8.6" fill="url(#scr)"/><rect x="340.60" y="307.10" width="8.6" height="1.5" fill="#b88c52"/><rect x="350.70" y="294.90" width="0.8" height="15.3" fill="#54595e"/><line x1="329.5" y1="302.40000000000003" x2="333.3" y2="302.40000000000003" stroke="#6678c2" stroke-width="1"/><polygon points="333.30,318.10 337.80,316.60 351.50,316.60 351.50,332.50 338.80,332.60 333.30,331.20" fill="#686e72"/><polygon points="333.30,318.10 338.50,317.20 338.50,332.60 333.30,331.20" fill="#30353a"/><rect x="334.90" y="319.60" width="0.9" height="10" fill="#4a5054"/><rect x="338.50" y="317.20" width="13" height="15.3" fill="#7a8085"/><rect x="338.50" y="317.20" width="13" height="1.4" fill="#9aa0a4"/><rect x="338.70" y="318.80" width="1.4" height="10.5" fill="#d0d6da"/><rect x="340.20" y="319.70" width="9.3" height="9.2" fill="#5a6470"/><rect x="340.50" y="320.00" width="8.7" height="8.6" fill="url(#scr)"/><rect x="340.60" y="329.40" width="8.6" height="1.5" fill="#b88c52"/><rect x="350.70" y="317.20" width="0.8" height="15.3" fill="#54595e"/><line x1="329.5" y1="324.70000000000005" x2="333.3" y2="324.70000000000005" stroke="#6678c2" stroke-width="1"/><polygon points="333.30,340.50 337.80,339.00 351.50,339.00 351.50,354.90 338.80,355.00 333.30,353.60" fill="#686e72"/><polygon points="333.30,340.50 338.50,339.60 338.50,355.00 333.30,353.60" fill="#30353a"/><rect x="334.90" y="342.00" width="0.9" height="10" fill="#4a5054"/><rect x="338.50" y="339.60" width="13" height="15.3" fill="#7a8085"/><rect x="338.50" y="339.60" width="13" height="1.4" fill="#9aa0a4"/><rect x="338.70" y="341.20" width="1.4" height="10.5" fill="#d0d6da"/><rect x="340.20" y="342.10" width="9.3" height="9.2" fill="#5a6470"/><rect x="340.50" y="342.40" width="8.7" height="8.6" fill="url(#scr)"/><rect x="340.60" y="351.80" width="8.6" height="1.5" fill="#b88c52"/><rect x="350.70" y="339.60" width="0.8" height="15.3" fill="#54595e"/><line x1="329.5" y1="347.1" x2="333.3" y2="347.1" stroke="#6678c2" stroke-width="1"/><polygon points="333.30,362.80 337.80,361.30 351.50,361.30 351.50,377.20 338.80,377.30 333.30,375.90" fill="#686e72"/><polygon points="333.30,362.80 338.50,361.90 338.50,377.30 333.30,375.90" fill="#30353a"/><rect x="334.90" y="364.30" width="0.9" height="10" fill="#4a5054"/><rect x="338.50" y="361.90" width="13" height="15.3" fill="#7a8085"/><rect x="338.50" y="361.90" width="13" height="1.4" fill="#9aa0a4"/><rect x="338.70" y="363.50" width="1.4" height="10.5" fill="#d0d6da"/><rect x="340.20" y="364.40" width="9.3" height="9.2" fill="#5a6470"/><rect x="340.50" y="364.70" width="8.7" height="8.6" fill="url(#scr)"/><rect x="340.60" y="374.10" width="8.6" height="1.5" fill="#b88c52"/><rect x="350.70" y="361.90" width="0.8" height="15.3" fill="#54595e"/><line x1="329.5" y1="369.40000000000003" x2="333.3" y2="369.40000000000003" stroke="#6678c2" stroke-width="1"/><polygon points="333.30,394.80 337.80,393.30 351.50,393.30 351.50,409.20 338.80,409.30 333.30,407.90" fill="#686e72"/><polygon points="333.30,394.80 338.50,393.90 338.50,409.30 333.30,407.90" fill="#30353a"/><rect x="334.90" y="396.30" width="0.9" height="10" fill="#4a5054"/><rect x="338.50" y="393.90" width="13" height="15.3" fill="#7a8085"/><rect x="338.50" y="393.90" width="13" height="1.4" fill="#9aa0a4"/><rect x="338.70" y="395.50" width="1.4" height="10.5" fill="#d0d6da"/><rect x="340.20" y="396.40" width="9.3" height="9.2" fill="#5a6470"/><rect x="340.50" y="396.70" width="8.7" height="8.6" fill="url(#scr)"/><rect x="340.60" y="406.10" width="8.6" height="1.5" fill="#b88c52"/><rect x="350.70" y="393.90" width="0.8" height="15.3" fill="#54595e"/><line x1="329.5" y1="401.40000000000003" x2="333.3" y2="401.40000000000003" stroke="#6678c2" stroke-width="1"/><rect x="341.30" y="383.50" width="1.1" height="1.5" fill="#555"/><rect x="341.30" y="386.10" width="1.1" height="1.5" fill="#555"/><rect x="341.30" y="388.70" width="1.1" height="1.5" fill="#555"/><polygon points="361.40,273.50 365.90,272.00 379.60,272.00 379.60,287.90 366.90,288.00 361.40,286.60" fill="#686e72"/><polygon points="361.40,273.50 366.60,272.60 366.60,288.00 361.40,286.60" fill="#30353a"/><rect x="363.00" y="275.00" width="0.9" height="10" fill="#4a5054"/><rect x="366.60" y="272.60" width="13" height="15.3" fill="#7a8085"/><rect x="366.60" y="272.60" width="13" height="1.4" fill="#9aa0a4"/><rect x="366.80" y="274.20" width="1.4" height="10.5" fill="#d0d6da"/><rect x="368.30" y="275.10" width="9.3" height="9.2" fill="#5a6470"/><rect x="368.60" y="275.40" width="8.7" height="8.6" fill="url(#scr)"/><rect x="368.70" y="284.80" width="8.6" height="1.5" fill="#b88c52"/><rect x="378.80" y="272.60" width="0.8" height="15.3" fill="#54595e"/><line x1="357.6" y1="280.1" x2="361.40000000000003" y2="280.1" stroke="#6678c2" stroke-width="1"/><polygon points="361.40,295.80 365.90,294.30 379.60,294.30 379.60,310.20 366.90,310.30 361.40,308.90" fill="#686e72"/><polygon points="361.40,295.80 366.60,294.90 366.60,310.30 361.40,308.90" fill="#30353a"/><rect x="363.00" y="297.30" width="0.9" height="10" fill="#4a5054"/><rect x="366.60" y="294.90" width="13" height="15.3" fill="#7a8085"/><rect x="366.60" y="294.90" width="13" height="1.4" fill="#9aa0a4"/><rect x="366.80" y="296.50" width="1.4" height="10.5" fill="#d0d6da"/><rect x="368.30" y="297.40" width="9.3" height="9.2" fill="#5a6470"/><rect x="368.60" y="297.70" width="8.7" height="8.6" fill="url(#scr)"/><rect x="368.70" y="307.10" width="8.6" height="1.5" fill="#b88c52"/><rect x="378.80" y="294.90" width="0.8" height="15.3" fill="#54595e"/><line x1="357.6" y1="302.40000000000003" x2="361.40000000000003" y2="302.40000000000003" stroke="#6678c2" stroke-width="1"/><polygon points="361.40,318.10 365.90,316.60 379.60,316.60 379.60,332.50 366.90,332.60 361.40,331.20" fill="#686e72"/><polygon points="361.40,318.10 366.60,317.20 366.60,332.60 361.40,331.20" fill="#30353a"/><rect x="363.00" y="319.60" width="0.9" height="10" fill="#4a5054"/><rect x="366.60" y="317.20" width="13" height="15.3" fill="#7a8085"/><rect x="366.60" y="317.20" width="13" height="1.4" fill="#9aa0a4"/><rect x="366.80" y="318.80" width="1.4" height="10.5" fill="#d0d6da"/><rect x="368.30" y="319.70" width="9.3" height="9.2" fill="#5a6470"/><rect x="368.60" y="320.00" width="8.7" height="8.6" fill="url(#scr)"/><rect x="368.70" y="329.40" width="8.6" height="1.5" fill="#b88c52"/><rect x="378.80" y="317.20" width="0.8" height="15.3" fill="#54595e"/><line x1="357.6" y1="324.70000000000005" x2="361.40000000000003" y2="324.70000000000005" stroke="#6678c2" stroke-width="1"/><polygon points="361.40,340.50 365.90,339.00 379.60,339.00 379.60,354.90 366.90,355.00 361.40,353.60" fill="#686e72"/><polygon points="361.40,340.50 366.60,339.60 366.60,355.00 361.40,353.60" fill="#30353a"/><rect x="363.00" y="342.00" width="0.9" height="10" fill="#4a5054"/><rect x="366.60" y="339.60" width="13" height="15.3" fill="#7a8085"/><rect x="366.60" y="339.60" width="13" height="1.4" fill="#9aa0a4"/><rect x="366.80" y="341.20" width="1.4" height="10.5" fill="#d0d6da"/><rect x="368.30" y="342.10" width="9.3" height="9.2" fill="#5a6470"/><rect x="368.60" y="342.40" width="8.7" height="8.6" fill="url(#scr)"/><rect x="368.70" y="351.80" width="8.6" height="1.5" fill="#b88c52"/><rect x="378.80" y="339.60" width="0.8" height="15.3" fill="#54595e"/><line x1="357.6" y1="347.1" x2="361.40000000000003" y2="347.1" stroke="#6678c2" stroke-width="1"/><polygon points="361.40,362.80 365.90,361.30 379.60,361.30 379.60,377.20 366.90,377.30 361.40,375.90" fill="#686e72"/><polygon points="361.40,362.80 366.60,361.90 366.60,377.30 361.40,375.90" fill="#30353a"/><rect x="363.00" y="364.30" width="0.9" height="10" fill="#4a5054"/><rect x="366.60" y="361.90" width="13" height="15.3" fill="#7a8085"/><rect x="366.60" y="361.90" width="13" height="1.4" fill="#9aa0a4"/><rect x="366.80" y="363.50" width="1.4" height="10.5" fill="#d0d6da"/><rect x="368.30" y="364.40" width="9.3" height="9.2" fill="#5a6470"/><rect x="368.60" y="364.70" width="8.7" height="8.6" fill="url(#scr)"/><rect x="368.70" y="374.10" width="8.6" height="1.5" fill="#b88c52"/><rect x="378.80" y="361.90" width="0.8" height="15.3" fill="#54595e"/><line x1="357.6" y1="369.40000000000003" x2="361.40000000000003" y2="369.40000000000003" stroke="#6678c2" stroke-width="1"/><polygon points="361.40,394.80 365.90,393.30 379.60,393.30 379.60,409.20 366.90,409.30 361.40,407.90" fill="#686e72"/><polygon points="361.40,394.80 366.60,393.90 366.60,409.30 361.40,407.90" fill="#30353a"/><rect x="363.00" y="396.30" width="0.9" height="10" fill="#4a5054"/><rect x="366.60" y="393.90" width="13" height="15.3" fill="#7a8085"/><rect x="366.60" y="393.90" width="13" height="1.4" fill="#9aa0a4"/><rect x="366.80" y="395.50" width="1.4" height="10.5" fill="#d0d6da"/><rect x="368.30" y="396.40" width="9.3" height="9.2" fill="#5a6470"/><rect x="368.60" y="396.70" width="8.7" height="8.6" fill="url(#scr)"/><rect x="368.70" y="406.10" width="8.6" height="1.5" fill="#b88c52"/><rect x="378.80" y="393.90" width="0.8" height="15.3" fill="#54595e"/><line x1="357.6" y1="401.40000000000003" x2="361.40000000000003" y2="401.40000000000003" stroke="#6678c2" stroke-width="1"/><rect x="369.40" y="383.50" width="1.1" height="1.5" fill="#555"/><rect x="369.40" y="386.10" width="1.1" height="1.5" fill="#555"/><rect x="369.40" y="388.70" width="1.1" height="1.5" fill="#555"/><polygon points="390.70,273.50 395.20,272.00 408.90,272.00 408.90,287.90 396.20,288.00 390.70,286.60" fill="#686e72"/><polygon points="390.70,273.50 395.90,272.60 395.90,288.00 390.70,286.60" fill="#30353a"/><rect x="392.30" y="275.00" width="0.9" height="10" fill="#4a5054"/><rect x="395.90" y="272.60" width="13" height="15.3" fill="#7a8085"/><rect x="395.90" y="272.60" width="13" height="1.4" fill="#9aa0a4"/><rect x="396.10" y="274.20" width="1.4" height="10.5" fill="#d0d6da"/><rect x="397.60" y="275.10" width="9.3" height="9.2" fill="#5a6470"/><rect x="397.90" y="275.40" width="8.7" height="8.6" fill="url(#scr)"/><rect x="398.00" y="284.80" width="8.6" height="1.5" fill="#b88c52"/><rect x="408.10" y="272.60" width="0.8" height="15.3" fill="#54595e"/><line x1="386.90000000000003" y1="280.1" x2="390.70000000000005" y2="280.1" stroke="#6678c2" stroke-width="1"/><polygon points="390.70,295.80 395.20,294.30 408.90,294.30 408.90,310.20 396.20,310.30 390.70,308.90" fill="#686e72"/><polygon points="390.70,295.80 395.90,294.90 395.90,310.30 390.70,308.90" fill="#30353a"/><rect x="392.30" y="297.30" width="0.9" height="10" fill="#4a5054"/><rect x="395.90" y="294.90" width="13" height="15.3" fill="#7a8085"/><rect x="395.90" y="294.90" width="13" height="1.4" fill="#9aa0a4"/><rect x="396.10" y="296.50" width="1.4" height="10.5" fill="#d0d6da"/><rect x="397.60" y="297.40" width="9.3" height="9.2" fill="#5a6470"/><rect x="397.90" y="297.70" width="8.7" height="8.6" fill="url(#scr)"/><rect x="398.00" y="307.10" width="8.6" height="1.5" fill="#b88c52"/><rect x="408.10" y="294.90" width="0.8" height="15.3" fill="#54595e"/><line x1="386.90000000000003" y1="302.40000000000003" x2="390.70000000000005" y2="302.40000000000003" stroke="#6678c2" stroke-width="1"/><polygon points="390.70,318.10 395.20,316.60 408.90,316.60 408.90,332.50 396.20,332.60 390.70,331.20" fill="#686e72"/><polygon points="390.70,318.10 395.90,317.20 395.90,332.60 390.70,331.20" fill="#30353a"/><rect x="392.30" y="319.60" width="0.9" height="10" fill="#4a5054"/><rect x="395.90" y="317.20" width="13" height="15.3" fill="#7a8085"/><rect x="395.90" y="317.20" width="13" height="1.4" fill="#9aa0a4"/><rect x="396.10" y="318.80" width="1.4" height="10.5" fill="#d0d6da"/><rect x="397.60" y="319.70" width="9.3" height="9.2" fill="#5a6470"/><rect x="397.90" y="320.00" width="8.7" height="8.6" fill="url(#scr)"/><rect x="398.00" y="329.40" width="8.6" height="1.5" fill="#b88c52"/><rect x="408.10" y="317.20" width="0.8" height="15.3" fill="#54595e"/><line x1="386.90000000000003" y1="324.70000000000005" x2="390.70000000000005" y2="324.70000000000005" stroke="#6678c2" stroke-width="1"/><polygon points="390.70,340.50 395.20,339.00 408.90,339.00 408.90,354.90 396.20,355.00 390.70,353.60" fill="#686e72"/><polygon points="390.70,340.50 395.90,339.60 395.90,355.00 390.70,353.60" fill="#30353a"/><rect x="392.30" y="342.00" width="0.9" height="10" fill="#4a5054"/><rect x="395.90" y="339.60" width="13" height="15.3" fill="#7a8085"/><rect x="395.90" y="339.60" width="13" height="1.4" fill="#9aa0a4"/><rect x="396.10" y="341.20" width="1.4" height="10.5" fill="#d0d6da"/><rect x="397.60" y="342.10" width="9.3" height="9.2" fill="#5a6470"/><rect x="397.90" y="342.40" width="8.7" height="8.6" fill="url(#scr)"/><rect x="398.00" y="351.80" width="8.6" height="1.5" fill="#b88c52"/><rect x="408.10" y="339.60" width="0.8" height="15.3" fill="#54595e"/><line x1="386.90000000000003" y1="347.1" x2="390.70000000000005" y2="347.1" stroke="#6678c2" stroke-width="1"/><polygon points="390.70,362.80 395.20,361.30 408.90,361.30 408.90,377.20 396.20,377.30 390.70,375.90" fill="#686e72"/><polygon points="390.70,362.80 395.90,361.90 395.90,377.30 390.70,375.90" fill="#30353a"/><rect x="392.30" y="364.30" width="0.9" height="10" fill="#4a5054"/><rect x="395.90" y="361.90" width="13" height="15.3" fill="#7a8085"/><rect x="395.90" y="361.90" width="13" height="1.4" fill="#9aa0a4"/><rect x="396.10" y="363.50" width="1.4" height="10.5" fill="#d0d6da"/><rect x="397.60" y="364.40" width="9.3" height="9.2" fill="#5a6470"/><rect x="397.90" y="364.70" width="8.7" height="8.6" fill="url(#scr)"/><rect x="398.00" y="374.10" width="8.6" height="1.5" fill="#b88c52"/><rect x="408.10" y="361.90" width="0.8" height="15.3" fill="#54595e"/><line x1="386.90000000000003" y1="369.40000000000003" x2="390.70000000000005" y2="369.40000000000003" stroke="#6678c2" stroke-width="1"/><polygon points="390.70,394.80 395.20,393.30 408.90,393.30 408.90,409.20 396.20,409.30 390.70,407.90" fill="#686e72"/><polygon points="390.70,394.80 395.90,393.90 395.90,409.30 390.70,407.90" fill="#30353a"/><rect x="392.30" y="396.30" width="0.9" height="10" fill="#4a5054"/><rect x="395.90" y="393.90" width="13" height="15.3" fill="#7a8085"/><rect x="395.90" y="393.90" width="13" height="1.4" fill="#9aa0a4"/><rect x="396.10" y="395.50" width="1.4" height="10.5" fill="#d0d6da"/><rect x="397.60" y="396.40" width="9.3" height="9.2" fill="#5a6470"/><rect x="397.90" y="396.70" width="8.7" height="8.6" fill="url(#scr)"/><rect x="398.00" y="406.10" width="8.6" height="1.5" fill="#b88c52"/><rect x="408.10" y="393.90" width="0.8" height="15.3" fill="#54595e"/><line x1="386.90000000000003" y1="401.40000000000003" x2="390.70000000000005" y2="401.40000000000003" stroke="#6678c2" stroke-width="1"/><rect x="398.70" y="383.50" width="1.1" height="1.5" fill="#555"/><rect x="398.70" y="386.10" width="1.1" height="1.5" fill="#555"/><rect x="398.70" y="388.70" width="1.1" height="1.5" fill="#555"/><text x="322.1" y="418.4" font-size="9" text-anchor="start" font-weight="normal" fill="#1a1a1a" stroke="#1a1a1a" stroke-width="0.3" textLength="33.5" lengthAdjust="spacingAndGlyphs">ACR120E</text><text x="354.6" y="418.4" font-size="9" text-anchor="start" font-weight="normal" fill="#1a1a1a" stroke="#1a1a1a" stroke-width="0.3" textLength="32.7" lengthAdjust="spacingAndGlyphs">PZ72L-AI</text><text x="387.70000000000005" y="418.4" font-size="9" text-anchor="start" font-weight="normal" fill="#1a1a1a" stroke="#1a1a1a" stroke-width="0.3" textLength="37.5" lengthAdjust="spacingAndGlyphs">PZ72L-AI3</text><text x="358.6" y="433.3" font-size="10" text-anchor="start" font-weight="normal" fill="#1a1a1a" stroke="#1a1a1a" stroke-width="0.25">3#</text><text x="370.20000000000005" y="433.3" font-size="8.6" text-anchor="start" font-weight="normal" fill="#1a1a1a" stroke="#1a1a1a" stroke-width="0.32">楼北</text><polygon points="456.60,149.90 474.10,145.20 487.10,148.70 487.10,154.60 469.60,162.40 456.60,155.40" fill="#2c2c2e"/><polygon points="456.60,149.90 474.10,145.20 487.10,148.70 469.60,154.70" fill="url(#ftg)"/><polygon points="469.60,154.70 487.10,148.70 487.10,154.60 469.60,162.40" fill="#353537"/><rect x="456.60" y="151.20" width="3.00" height="4.00" fill="#1e1e20"/><rect x="464.60" y="156.00" width="3.60" height="3.20" fill="#5a5a58"/><rect x="465.40" y="156.80" width="2.00" height="1.80" fill="#222"/><rect x="430.4" y="192.3" width="100.40" height="247.2" fill="none" stroke="#9ca2aa" stroke-width="1.2"/><line x1="469.0" y1="165.2" x2="469.0" y2="199.3" stroke="#5670c0" stroke-width="1.5"/><polygon points="455.70,206.40 473.20,201.70 486.20,205.20 486.20,211.10 468.70,218.90 455.70,211.90" fill="#2c2c2e"/><polygon points="455.70,206.40 473.20,201.70 486.20,205.20 468.70,211.20" fill="url(#ftg)"/><polygon points="468.70,211.20 486.20,205.20 486.20,211.10 468.70,218.90" fill="#353537"/><rect x="455.70" y="207.70" width="3.00" height="4.00" fill="#1e1e20"/><rect x="463.70" y="212.50" width="3.60" height="3.20" fill="#5a5a58"/><rect x="464.50" y="213.30" width="2.00" height="1.80" fill="#222"/><line x1="469.0" y1="219.8" x2="469.0" y2="228.8" stroke="#5670c0" stroke-width="1.5"/><polygon points="449.50,230.10 486.50,230.10 494.70,235.50 494.70,241.10 443.70,241.10 443.70,235.50" fill="#f8fafd" stroke="#f8fafd" stroke-width="2.2" stroke-linejoin="round"/><polygon points="449.50,230.10 486.50,230.10 494.70,235.50 494.70,241.10 443.70,241.10 443.70,235.50" fill="#0f1116"/><polygon points="449.50,230.10 486.50,230.10 494.70,235.50 443.70,235.50" fill="#1a1d24"/><rect x="450.70" y="237.80" width="6.00" height="1.4" fill="#4a9a5a"/><rect x="459.70" y="238.10" width="7.00" height="1.3" fill="#2c4c8e"/><rect x="481.70" y="236.00" width="11.80" height="2.2" fill="#52a4ea"/><line x1="469.0" y1="241.3" x2="469.0" y2="252.0" stroke="#5670c0" stroke-width="1.5"/><polyline points="440.9,401.3 440.9,252.0 498.3,252.0 498.3,401.3" fill="none" stroke="#6678c2" stroke-width="1.1"/><line x1="469.0" y1="252.0" x2="469.0" y2="401.3" stroke="#6678c2" stroke-width="1.1"/><text x="442.4" y="265.3" font-size="9" text-anchor="start" font-weight="normal" fill="#111" stroke="#111" stroke-width="0.3" textLength="31" lengthAdjust="spacingAndGlyphs">MODBUS</text><text x="470.5" y="265.3" font-size="9" text-anchor="start" font-weight="normal" fill="#111" stroke="#111" stroke-width="0.3" textLength="31" lengthAdjust="spacingAndGlyphs">MODBUS</text><text x="499.8" y="265.3" font-size="9" text-anchor="start" font-weight="normal" fill="#111" stroke="#111" stroke-width="0.3" textLength="31" lengthAdjust="spacingAndGlyphs">MODBUS</text><polygon points="444.70,273.50 449.20,272.00 462.90,272.00 462.90,287.90 450.20,288.00 444.70,286.60" fill="#686e72"/><polygon points="444.70,273.50 449.90,272.60 449.90,288.00 444.70,286.60" fill="#30353a"/><rect x="446.30" y="275.00" width="0.9" height="10" fill="#4a5054"/><rect x="449.90" y="272.60" width="13" height="15.3" fill="#7a8085"/><rect x="449.90" y="272.60" width="13" height="1.4" fill="#9aa0a4"/><rect x="450.10" y="274.20" width="1.4" height="10.5" fill="#d0d6da"/><rect x="451.60" y="275.10" width="9.3" height="9.2" fill="#5a6470"/><rect x="451.90" y="275.40" width="8.7" height="8.6" fill="url(#scr)"/><rect x="452.00" y="284.80" width="8.6" height="1.5" fill="#b88c52"/><rect x="462.10" y="272.60" width="0.8" height="15.3" fill="#54595e"/><line x1="440.9" y1="280.1" x2="444.7" y2="280.1" stroke="#6678c2" stroke-width="1"/><polygon points="444.70,295.80 449.20,294.30 462.90,294.30 462.90,310.20 450.20,310.30 444.70,308.90" fill="#686e72"/><polygon points="444.70,295.80 449.90,294.90 449.90,310.30 444.70,308.90" fill="#30353a"/><rect x="446.30" y="297.30" width="0.9" height="10" fill="#4a5054"/><rect x="449.90" y="294.90" width="13" height="15.3" fill="#7a8085"/><rect x="449.90" y="294.90" width="13" height="1.4" fill="#9aa0a4"/><rect x="450.10" y="296.50" width="1.4" height="10.5" fill="#d0d6da"/><rect x="451.60" y="297.40" width="9.3" height="9.2" fill="#5a6470"/><rect x="451.90" y="297.70" width="8.7" height="8.6" fill="url(#scr)"/><rect x="452.00" y="307.10" width="8.6" height="1.5" fill="#b88c52"/><rect x="462.10" y="294.90" width="0.8" height="15.3" fill="#54595e"/><line x1="440.9" y1="302.40000000000003" x2="444.7" y2="302.40000000000003" stroke="#6678c2" stroke-width="1"/><polygon points="444.70,318.10 449.20,316.60 462.90,316.60 462.90,332.50 450.20,332.60 444.70,331.20" fill="#686e72"/><polygon points="444.70,318.10 449.90,317.20 449.90,332.60 444.70,331.20" fill="#30353a"/><rect x="446.30" y="319.60" width="0.9" height="10" fill="#4a5054"/><rect x="449.90" y="317.20" width="13" height="15.3" fill="#7a8085"/><rect x="449.90" y="317.20" width="13" height="1.4" fill="#9aa0a4"/><rect x="450.10" y="318.80" width="1.4" height="10.5" fill="#d0d6da"/><rect x="451.60" y="319.70" width="9.3" height="9.2" fill="#5a6470"/><rect x="451.90" y="320.00" width="8.7" height="8.6" fill="url(#scr)"/><rect x="452.00" y="329.40" width="8.6" height="1.5" fill="#b88c52"/><rect x="462.10" y="317.20" width="0.8" height="15.3" fill="#54595e"/><line x1="440.9" y1="324.70000000000005" x2="444.7" y2="324.70000000000005" stroke="#6678c2" stroke-width="1"/><polygon points="444.70,340.50 449.20,339.00 462.90,339.00 462.90,354.90 450.20,355.00 444.70,353.60" fill="#686e72"/><polygon points="444.70,340.50 449.90,339.60 449.90,355.00 444.70,353.60" fill="#30353a"/><rect x="446.30" y="342.00" width="0.9" height="10" fill="#4a5054"/><rect x="449.90" y="339.60" width="13" height="15.3" fill="#7a8085"/><rect x="449.90" y="339.60" width="13" height="1.4" fill="#9aa0a4"/><rect x="450.10" y="341.20" width="1.4" height="10.5" fill="#d0d6da"/><rect x="451.60" y="342.10" width="9.3" height="9.2" fill="#5a6470"/><rect x="451.90" y="342.40" width="8.7" height="8.6" fill="url(#scr)"/><rect x="452.00" y="351.80" width="8.6" height="1.5" fill="#b88c52"/><rect x="462.10" y="339.60" width="0.8" height="15.3" fill="#54595e"/><line x1="440.9" y1="347.1" x2="444.7" y2="347.1" stroke="#6678c2" stroke-width="1"/><polygon points="444.70,362.80 449.20,361.30 462.90,361.30 462.90,377.20 450.20,377.30 444.70,375.90" fill="#686e72"/><polygon points="444.70,362.80 449.90,361.90 449.90,377.30 444.70,375.90" fill="#30353a"/><rect x="446.30" y="364.30" width="0.9" height="10" fill="#4a5054"/><rect x="449.90" y="361.90" width="13" height="15.3" fill="#7a8085"/><rect x="449.90" y="361.90" width="13" height="1.4" fill="#9aa0a4"/><rect x="450.10" y="363.50" width="1.4" height="10.5" fill="#d0d6da"/><rect x="451.60" y="364.40" width="9.3" height="9.2" fill="#5a6470"/><rect x="451.90" y="364.70" width="8.7" height="8.6" fill="url(#scr)"/><rect x="452.00" y="374.10" width="8.6" height="1.5" fill="#b88c52"/><rect x="462.10" y="361.90" width="0.8" height="15.3" fill="#54595e"/><line x1="440.9" y1="369.40000000000003" x2="444.7" y2="369.40000000000003" stroke="#6678c2" stroke-width="1"/><polygon points="444.70,394.80 449.20,393.30 462.90,393.30 462.90,409.20 450.20,409.30 444.70,407.90" fill="#686e72"/><polygon points="444.70,394.80 449.90,393.90 449.90,409.30 444.70,407.90" fill="#30353a"/><rect x="446.30" y="396.30" width="0.9" height="10" fill="#4a5054"/><rect x="449.90" y="393.90" width="13" height="15.3" fill="#7a8085"/><rect x="449.90" y="393.90" width="13" height="1.4" fill="#9aa0a4"/><rect x="450.10" y="395.50" width="1.4" height="10.5" fill="#d0d6da"/><rect x="451.60" y="396.40" width="9.3" height="9.2" fill="#5a6470"/><rect x="451.90" y="396.70" width="8.7" height="8.6" fill="url(#scr)"/><rect x="452.00" y="406.10" width="8.6" height="1.5" fill="#b88c52"/><rect x="462.10" y="393.90" width="0.8" height="15.3" fill="#54595e"/><line x1="440.9" y1="401.40000000000003" x2="444.7" y2="401.40000000000003" stroke="#6678c2" stroke-width="1"/><rect x="452.70" y="383.50" width="1.1" height="1.5" fill="#555"/><rect x="452.70" y="386.10" width="1.1" height="1.5" fill="#555"/><rect x="452.70" y="388.70" width="1.1" height="1.5" fill="#555"/><polygon points="472.80,273.50 477.30,272.00 491.00,272.00 491.00,287.90 478.30,288.00 472.80,286.60" fill="#686e72"/><polygon points="472.80,273.50 478.00,272.60 478.00,288.00 472.80,286.60" fill="#30353a"/><rect x="474.40" y="275.00" width="0.9" height="10" fill="#4a5054"/><rect x="478.00" y="272.60" width="13" height="15.3" fill="#7a8085"/><rect x="478.00" y="272.60" width="13" height="1.4" fill="#9aa0a4"/><rect x="478.20" y="274.20" width="1.4" height="10.5" fill="#d0d6da"/><rect x="479.70" y="275.10" width="9.3" height="9.2" fill="#5a6470"/><rect x="480.00" y="275.40" width="8.7" height="8.6" fill="url(#scr)"/><rect x="480.10" y="284.80" width="8.6" height="1.5" fill="#b88c52"/><rect x="490.20" y="272.60" width="0.8" height="15.3" fill="#54595e"/><line x1="469.0" y1="280.1" x2="472.8" y2="280.1" stroke="#6678c2" stroke-width="1"/><polygon points="472.80,295.80 477.30,294.30 491.00,294.30 491.00,310.20 478.30,310.30 472.80,308.90" fill="#686e72"/><polygon points="472.80,295.80 478.00,294.90 478.00,310.30 472.80,308.90" fill="#30353a"/><rect x="474.40" y="297.30" width="0.9" height="10" fill="#4a5054"/><rect x="478.00" y="294.90" width="13" height="15.3" fill="#7a8085"/><rect x="478.00" y="294.90" width="13" height="1.4" fill="#9aa0a4"/><rect x="478.20" y="296.50" width="1.4" height="10.5" fill="#d0d6da"/><rect x="479.70" y="297.40" width="9.3" height="9.2" fill="#5a6470"/><rect x="480.00" y="297.70" width="8.7" height="8.6" fill="url(#scr)"/><rect x="480.10" y="307.10" width="8.6" height="1.5" fill="#b88c52"/><rect x="490.20" y="294.90" width="0.8" height="15.3" fill="#54595e"/><line x1="469.0" y1="302.40000000000003" x2="472.8" y2="302.40000000000003" stroke="#6678c2" stroke-width="1"/><polygon points="472.80,318.10 477.30,316.60 491.00,316.60 491.00,332.50 478.30,332.60 472.80,331.20" fill="#686e72"/><polygon points="472.80,318.10 478.00,317.20 478.00,332.60 472.80,331.20" fill="#30353a"/><rect x="474.40" y="319.60" width="0.9" height="10" fill="#4a5054"/><rect x="478.00" y="317.20" width="13" height="15.3" fill="#7a8085"/><rect x="478.00" y="317.20" width="13" height="1.4" fill="#9aa0a4"/><rect x="478.20" y="318.80" width="1.4" height="10.5" fill="#d0d6da"/><rect x="479.70" y="319.70" width="9.3" height="9.2" fill="#5a6470"/><rect x="480.00" y="320.00" width="8.7" height="8.6" fill="url(#scr)"/><rect x="480.10" y="329.40" width="8.6" height="1.5" fill="#b88c52"/><rect x="490.20" y="317.20" width="0.8" height="15.3" fill="#54595e"/><line x1="469.0" y1="324.70000000000005" x2="472.8" y2="324.70000000000005" stroke="#6678c2" stroke-width="1"/><polygon points="472.80,340.50 477.30,339.00 491.00,339.00 491.00,354.90 478.30,355.00 472.80,353.60" fill="#686e72"/><polygon points="472.80,340.50 478.00,339.60 478.00,355.00 472.80,353.60" fill="#30353a"/><rect x="474.40" y="342.00" width="0.9" height="10" fill="#4a5054"/><rect x="478.00" y="339.60" width="13" height="15.3" fill="#7a8085"/><rect x="478.00" y="339.60" width="13" height="1.4" fill="#9aa0a4"/><rect x="478.20" y="341.20" width="1.4" height="10.5" fill="#d0d6da"/><rect x="479.70" y="342.10" width="9.3" height="9.2" fill="#5a6470"/><rect x="480.00" y="342.40" width="8.7" height="8.6" fill="url(#scr)"/><rect x="480.10" y="351.80" width="8.6" height="1.5" fill="#b88c52"/><rect x="490.20" y="339.60" width="0.8" height="15.3" fill="#54595e"/><line x1="469.0" y1="347.1" x2="472.8" y2="347.1" stroke="#6678c2" stroke-width="1"/><polygon points="472.80,362.80 477.30,361.30 491.00,361.30 491.00,377.20 478.30,377.30 472.80,375.90" fill="#686e72"/><polygon points="472.80,362.80 478.00,361.90 478.00,377.30 472.80,375.90" fill="#30353a"/><rect x="474.40" y="364.30" width="0.9" height="10" fill="#4a5054"/><rect x="478.00" y="361.90" width="13" height="15.3" fill="#7a8085"/><rect x="478.00" y="361.90" width="13" height="1.4" fill="#9aa0a4"/><rect x="478.20" y="363.50" width="1.4" height="10.5" fill="#d0d6da"/><rect x="479.70" y="364.40" width="9.3" height="9.2" fill="#5a6470"/><rect x="480.00" y="364.70" width="8.7" height="8.6" fill="url(#scr)"/><rect x="480.10" y="374.10" width="8.6" height="1.5" fill="#b88c52"/><rect x="490.20" y="361.90" width="0.8" height="15.3" fill="#54595e"/><line x1="469.0" y1="369.40000000000003" x2="472.8" y2="369.40000000000003" stroke="#6678c2" stroke-width="1"/><polygon points="472.80,394.80 477.30,393.30 491.00,393.30 491.00,409.20 478.30,409.30 472.80,407.90" fill="#686e72"/><polygon points="472.80,394.80 478.00,393.90 478.00,409.30 472.80,407.90" fill="#30353a"/><rect x="474.40" y="396.30" width="0.9" height="10" fill="#4a5054"/><rect x="478.00" y="393.90" width="13" height="15.3" fill="#7a8085"/><rect x="478.00" y="393.90" width="13" height="1.4" fill="#9aa0a4"/><rect x="478.20" y="395.50" width="1.4" height="10.5" fill="#d0d6da"/><rect x="479.70" y="396.40" width="9.3" height="9.2" fill="#5a6470"/><rect x="480.00" y="396.70" width="8.7" height="8.6" fill="url(#scr)"/><rect x="480.10" y="406.10" width="8.6" height="1.5" fill="#b88c52"/><rect x="490.20" y="393.90" width="0.8" height="15.3" fill="#54595e"/><line x1="469.0" y1="401.40000000000003" x2="472.8" y2="401.40000000000003" stroke="#6678c2" stroke-width="1"/><rect x="480.80" y="383.50" width="1.1" height="1.5" fill="#555"/><rect x="480.80" y="386.10" width="1.1" height="1.5" fill="#555"/><rect x="480.80" y="388.70" width="1.1" height="1.5" fill="#555"/><polygon points="502.10,273.50 506.60,272.00 520.30,272.00 520.30,287.90 507.60,288.00 502.10,286.60" fill="#686e72"/><polygon points="502.10,273.50 507.30,272.60 507.30,288.00 502.10,286.60" fill="#30353a"/><rect x="503.70" y="275.00" width="0.9" height="10" fill="#4a5054"/><rect x="507.30" y="272.60" width="13" height="15.3" fill="#7a8085"/><rect x="507.30" y="272.60" width="13" height="1.4" fill="#9aa0a4"/><rect x="507.50" y="274.20" width="1.4" height="10.5" fill="#d0d6da"/><rect x="509.00" y="275.10" width="9.3" height="9.2" fill="#5a6470"/><rect x="509.30" y="275.40" width="8.7" height="8.6" fill="url(#scr)"/><rect x="509.40" y="284.80" width="8.6" height="1.5" fill="#b88c52"/><rect x="519.50" y="272.60" width="0.8" height="15.3" fill="#54595e"/><line x1="498.3" y1="280.1" x2="502.1" y2="280.1" stroke="#6678c2" stroke-width="1"/><polygon points="502.10,295.80 506.60,294.30 520.30,294.30 520.30,310.20 507.60,310.30 502.10,308.90" fill="#686e72"/><polygon points="502.10,295.80 507.30,294.90 507.30,310.30 502.10,308.90" fill="#30353a"/><rect x="503.70" y="297.30" width="0.9" height="10" fill="#4a5054"/><rect x="507.30" y="294.90" width="13" height="15.3" fill="#7a8085"/><rect x="507.30" y="294.90" width="13" height="1.4" fill="#9aa0a4"/><rect x="507.50" y="296.50" width="1.4" height="10.5" fill="#d0d6da"/><rect x="509.00" y="297.40" width="9.3" height="9.2" fill="#5a6470"/><rect x="509.30" y="297.70" width="8.7" height="8.6" fill="url(#scr)"/><rect x="509.40" y="307.10" width="8.6" height="1.5" fill="#b88c52"/><rect x="519.50" y="294.90" width="0.8" height="15.3" fill="#54595e"/><line x1="498.3" y1="302.40000000000003" x2="502.1" y2="302.40000000000003" stroke="#6678c2" stroke-width="1"/><polygon points="502.10,318.10 506.60,316.60 520.30,316.60 520.30,332.50 507.60,332.60 502.10,331.20" fill="#686e72"/><polygon points="502.10,318.10 507.30,317.20 507.30,332.60 502.10,331.20" fill="#30353a"/><rect x="503.70" y="319.60" width="0.9" height="10" fill="#4a5054"/><rect x="507.30" y="317.20" width="13" height="15.3" fill="#7a8085"/><rect x="507.30" y="317.20" width="13" height="1.4" fill="#9aa0a4"/><rect x="507.50" y="318.80" width="1.4" height="10.5" fill="#d0d6da"/><rect x="509.00" y="319.70" width="9.3" height="9.2" fill="#5a6470"/><rect x="509.30" y="320.00" width="8.7" height="8.6" fill="url(#scr)"/><rect x="509.40" y="329.40" width="8.6" height="1.5" fill="#b88c52"/><rect x="519.50" y="317.20" width="0.8" height="15.3" fill="#54595e"/><line x1="498.3" y1="324.70000000000005" x2="502.1" y2="324.70000000000005" stroke="#6678c2" stroke-width="1"/><polygon points="502.10,340.50 506.60,339.00 520.30,339.00 520.30,354.90 507.60,355.00 502.10,353.60" fill="#686e72"/><polygon points="502.10,340.50 507.30,339.60 507.30,355.00 502.10,353.60" fill="#30353a"/><rect x="503.70" y="342.00" width="0.9" height="10" fill="#4a5054"/><rect x="507.30" y="339.60" width="13" height="15.3" fill="#7a8085"/><rect x="507.30" y="339.60" width="13" height="1.4" fill="#9aa0a4"/><rect x="507.50" y="341.20" width="1.4" height="10.5" fill="#d0d6da"/><rect x="509.00" y="342.10" width="9.3" height="9.2" fill="#5a6470"/><rect x="509.30" y="342.40" width="8.7" height="8.6" fill="url(#scr)"/><rect x="509.40" y="351.80" width="8.6" height="1.5" fill="#b88c52"/><rect x="519.50" y="339.60" width="0.8" height="15.3" fill="#54595e"/><line x1="498.3" y1="347.1" x2="502.1" y2="347.1" stroke="#6678c2" stroke-width="1"/><polygon points="502.10,362.80 506.60,361.30 520.30,361.30 520.30,377.20 507.60,377.30 502.10,375.90" fill="#686e72"/><polygon points="502.10,362.80 507.30,361.90 507.30,377.30 502.10,375.90" fill="#30353a"/><rect x="503.70" y="364.30" width="0.9" height="10" fill="#4a5054"/><rect x="507.30" y="361.90" width="13" height="15.3" fill="#7a8085"/><rect x="507.30" y="361.90" width="13" height="1.4" fill="#9aa0a4"/><rect x="507.50" y="363.50" width="1.4" height="10.5" fill="#d0d6da"/><rect x="509.00" y="364.40" width="9.3" height="9.2" fill="#5a6470"/><rect x="509.30" y="364.70" width="8.7" height="8.6" fill="url(#scr)"/><rect x="509.40" y="374.10" width="8.6" height="1.5" fill="#b88c52"/><rect x="519.50" y="361.90" width="0.8" height="15.3" fill="#54595e"/><line x1="498.3" y1="369.40000000000003" x2="502.1" y2="369.40000000000003" stroke="#6678c2" stroke-width="1"/><polygon points="502.10,394.80 506.60,393.30 520.30,393.30 520.30,409.20 507.60,409.30 502.10,407.90" fill="#686e72"/><polygon points="502.10,394.80 507.30,393.90 507.30,409.30 502.10,407.90" fill="#30353a"/><rect x="503.70" y="396.30" width="0.9" height="10" fill="#4a5054"/><rect x="507.30" y="393.90" width="13" height="15.3" fill="#7a8085"/><rect x="507.30" y="393.90" width="13" height="1.4" fill="#9aa0a4"/><rect x="507.50" y="395.50" width="1.4" height="10.5" fill="#d0d6da"/><rect x="509.00" y="396.40" width="9.3" height="9.2" fill="#5a6470"/><rect x="509.30" y="396.70" width="8.7" height="8.6" fill="url(#scr)"/><rect x="509.40" y="406.10" width="8.6" height="1.5" fill="#b88c52"/><rect x="519.50" y="393.90" width="0.8" height="15.3" fill="#54595e"/><line x1="498.3" y1="401.40000000000003" x2="502.1" y2="401.40000000000003" stroke="#6678c2" stroke-width="1"/><rect x="510.10" y="383.50" width="1.1" height="1.5" fill="#555"/><rect x="510.10" y="386.10" width="1.1" height="1.5" fill="#555"/><rect x="510.10" y="388.70" width="1.1" height="1.5" fill="#555"/><text x="433.5" y="418.4" font-size="9" text-anchor="start" font-weight="normal" fill="#1a1a1a" stroke="#1a1a1a" stroke-width="0.3" textLength="33.5" lengthAdjust="spacingAndGlyphs">ACR120E</text><text x="466.0" y="418.4" font-size="9" text-anchor="start" font-weight="normal" fill="#1a1a1a" stroke="#1a1a1a" stroke-width="0.3" textLength="32.7" lengthAdjust="spacingAndGlyphs">PZ72L-AI</text><text x="499.1" y="418.4" font-size="9" text-anchor="start" font-weight="normal" fill="#1a1a1a" stroke="#1a1a1a" stroke-width="0.3" textLength="37.5" lengthAdjust="spacingAndGlyphs">PZ72L-AI3</text><text x="470.0" y="433.3" font-size="10" text-anchor="start" font-weight="normal" fill="#1a1a1a" stroke="#1a1a1a" stroke-width="0.25">3#</text><text x="481.6" y="433.3" font-size="8.6" text-anchor="start" font-weight="normal" fill="#1a1a1a" stroke="#1a1a1a" stroke-width="0.32">楼南</text><polygon points="567.90,146.50 585.40,141.80 598.40,145.30 598.40,151.20 580.90,159.00 567.90,152.00" fill="#2c2c2e"/><polygon points="567.90,146.50 585.40,141.80 598.40,145.30 580.90,151.30" fill="url(#ftg)"/><polygon points="580.90,151.30 598.40,145.30 598.40,151.20 580.90,159.00" fill="#353537"/><rect x="567.90" y="147.80" width="3.00" height="4.00" fill="#1e1e20"/><rect x="575.90" y="152.60" width="3.60" height="3.20" fill="#5a5a58"/><rect x="576.70" y="153.40" width="2.00" height="1.80" fill="#222"/><rect x="542.0" y="189.8" width="100.40" height="247.2" fill="none" stroke="#9ca2aa" stroke-width="1.2"/><line x1="580.3" y1="161.8" x2="580.3" y2="196.8" stroke="#5670c0" stroke-width="1.5"/><polygon points="567.00,203.90 584.50,199.20 597.50,202.70 597.50,208.60 580.00,216.40 567.00,209.40" fill="#2c2c2e"/><polygon points="567.00,203.90 584.50,199.20 597.50,202.70 580.00,208.70" fill="url(#ftg)"/><polygon points="580.00,208.70 597.50,202.70 597.50,208.60 580.00,216.40" fill="#353537"/><rect x="567.00" y="205.20" width="3.00" height="4.00" fill="#1e1e20"/><rect x="575.00" y="210.00" width="3.60" height="3.20" fill="#5a5a58"/><rect x="575.80" y="210.80" width="2.00" height="1.80" fill="#222"/><line x1="580.3" y1="217.3" x2="580.3" y2="226.3" stroke="#5670c0" stroke-width="1.5"/><polygon points="560.80,227.60 597.80,227.60 606.00,233.00 606.00,238.60 555.00,238.60 555.00,233.00" fill="#f8fafd" stroke="#f8fafd" stroke-width="2.2" stroke-linejoin="round"/><polygon points="560.80,227.60 597.80,227.60 606.00,233.00 606.00,238.60 555.00,238.60 555.00,233.00" fill="#0f1116"/><polygon points="560.80,227.60 597.80,227.60 606.00,233.00 555.00,233.00" fill="#1a1d24"/><rect x="562.00" y="235.30" width="6.00" height="1.4" fill="#4a9a5a"/><rect x="571.00" y="235.60" width="7.00" height="1.3" fill="#2c4c8e"/><rect x="593.00" y="233.50" width="11.80" height="2.2" fill="#52a4ea"/><line x1="580.3" y1="238.8" x2="580.3" y2="249.5" stroke="#5670c0" stroke-width="1.5"/><polyline points="552.1999999999999,398.8 552.1999999999999,249.5 609.5999999999999,249.5 609.5999999999999,398.8" fill="none" stroke="#6678c2" stroke-width="1.1"/><line x1="580.3" y1="249.5" x2="580.3" y2="398.8" stroke="#6678c2" stroke-width="1.1"/><text x="553.6999999999999" y="262.8" font-size="9" text-anchor="start" font-weight="normal" fill="#111" stroke="#111" stroke-width="0.3" textLength="31" lengthAdjust="spacingAndGlyphs">MODBUS</text><text x="581.8" y="262.8" font-size="9" text-anchor="start" font-weight="normal" fill="#111" stroke="#111" stroke-width="0.3" textLength="31" lengthAdjust="spacingAndGlyphs">MODBUS</text><text x="611.0999999999999" y="262.8" font-size="9" text-anchor="start" font-weight="normal" fill="#111" stroke="#111" stroke-width="0.3" textLength="31" lengthAdjust="spacingAndGlyphs">MODBUS</text><polygon points="556.00,271.00 560.50,269.50 574.20,269.50 574.20,285.40 561.50,285.50 556.00,284.10" fill="#686e72"/><polygon points="556.00,271.00 561.20,270.10 561.20,285.50 556.00,284.10" fill="#30353a"/><rect x="557.60" y="272.50" width="0.9" height="10" fill="#4a5054"/><rect x="561.20" y="270.10" width="13" height="15.3" fill="#7a8085"/><rect x="561.20" y="270.10" width="13" height="1.4" fill="#9aa0a4"/><rect x="561.40" y="271.70" width="1.4" height="10.5" fill="#d0d6da"/><rect x="562.90" y="272.60" width="9.3" height="9.2" fill="#5a6470"/><rect x="563.20" y="272.90" width="8.7" height="8.6" fill="url(#scr)"/><rect x="563.30" y="282.30" width="8.6" height="1.5" fill="#b88c52"/><rect x="573.40" y="270.10" width="0.8" height="15.3" fill="#54595e"/><line x1="552.1999999999999" y1="277.6" x2="555.9999999999999" y2="277.6" stroke="#6678c2" stroke-width="1"/><polygon points="556.00,293.30 560.50,291.80 574.20,291.80 574.20,307.70 561.50,307.80 556.00,306.40" fill="#686e72"/><polygon points="556.00,293.30 561.20,292.40 561.20,307.80 556.00,306.40" fill="#30353a"/><rect x="557.60" y="294.80" width="0.9" height="10" fill="#4a5054"/><rect x="561.20" y="292.40" width="13" height="15.3" fill="#7a8085"/><rect x="561.20" y="292.40" width="13" height="1.4" fill="#9aa0a4"/><rect x="561.40" y="294.00" width="1.4" height="10.5" fill="#d0d6da"/><rect x="562.90" y="294.90" width="9.3" height="9.2" fill="#5a6470"/><rect x="563.20" y="295.20" width="8.7" height="8.6" fill="url(#scr)"/><rect x="563.30" y="304.60" width="8.6" height="1.5" fill="#b88c52"/><rect x="573.40" y="292.40" width="0.8" height="15.3" fill="#54595e"/><line x1="552.1999999999999" y1="299.90000000000003" x2="555.9999999999999" y2="299.90000000000003" stroke="#6678c2" stroke-width="1"/><polygon points="556.00,315.60 560.50,314.10 574.20,314.10 574.20,330.00 561.50,330.10 556.00,328.70" fill="#686e72"/><polygon points="556.00,315.60 561.20,314.70 561.20,330.10 556.00,328.70" fill="#30353a"/><rect x="557.60" y="317.10" width="0.9" height="10" fill="#4a5054"/><rect x="561.20" y="314.70" width="13" height="15.3" fill="#7a8085"/><rect x="561.20" y="314.70" width="13" height="1.4" fill="#9aa0a4"/><rect x="561.40" y="316.30" width="1.4" height="10.5" fill="#d0d6da"/><rect x="562.90" y="317.20" width="9.3" height="9.2" fill="#5a6470"/><rect x="563.20" y="317.50" width="8.7" height="8.6" fill="url(#scr)"/><rect x="563.30" y="326.90" width="8.6" height="1.5" fill="#b88c52"/><rect x="573.40" y="314.70" width="0.8" height="15.3" fill="#54595e"/><line x1="552.1999999999999" y1="322.20000000000005" x2="555.9999999999999" y2="322.20000000000005" stroke="#6678c2" stroke-width="1"/><polygon points="556.00,338.00 560.50,336.50 574.20,336.50 574.20,352.40 561.50,352.50 556.00,351.10" fill="#686e72"/><polygon points="556.00,338.00 561.20,337.10 561.20,352.50 556.00,351.10" fill="#30353a"/><rect x="557.60" y="339.50" width="0.9" height="10" fill="#4a5054"/><rect x="561.20" y="337.10" width="13" height="15.3" fill="#7a8085"/><rect x="561.20" y="337.10" width="13" height="1.4" fill="#9aa0a4"/><rect x="561.40" y="338.70" width="1.4" height="10.5" fill="#d0d6da"/><rect x="562.90" y="339.60" width="9.3" height="9.2" fill="#5a6470"/><rect x="563.20" y="339.90" width="8.7" height="8.6" fill="url(#scr)"/><rect x="563.30" y="349.30" width="8.6" height="1.5" fill="#b88c52"/><rect x="573.40" y="337.10" width="0.8" height="15.3" fill="#54595e"/><line x1="552.1999999999999" y1="344.6" x2="555.9999999999999" y2="344.6" stroke="#6678c2" stroke-width="1"/><polygon points="556.00,360.30 560.50,358.80 574.20,358.80 574.20,374.70 561.50,374.80 556.00,373.40" fill="#686e72"/><polygon points="556.00,360.30 561.20,359.40 561.20,374.80 556.00,373.40" fill="#30353a"/><rect x="557.60" y="361.80" width="0.9" height="10" fill="#4a5054"/><rect x="561.20" y="359.40" width="13" height="15.3" fill="#7a8085"/><rect x="561.20" y="359.40" width="13" height="1.4" fill="#9aa0a4"/><rect x="561.40" y="361.00" width="1.4" height="10.5" fill="#d0d6da"/><rect x="562.90" y="361.90" width="9.3" height="9.2" fill="#5a6470"/><rect x="563.20" y="362.20" width="8.7" height="8.6" fill="url(#scr)"/><rect x="563.30" y="371.60" width="8.6" height="1.5" fill="#b88c52"/><rect x="573.40" y="359.40" width="0.8" height="15.3" fill="#54595e"/><line x1="552.1999999999999" y1="366.90000000000003" x2="555.9999999999999" y2="366.90000000000003" stroke="#6678c2" stroke-width="1"/><polygon points="556.00,392.30 560.50,390.80 574.20,390.80 574.20,406.70 561.50,406.80 556.00,405.40" fill="#686e72"/><polygon points="556.00,392.30 561.20,391.40 561.20,406.80 556.00,405.40" fill="#30353a"/><rect x="557.60" y="393.80" width="0.9" height="10" fill="#4a5054"/><rect x="561.20" y="391.40" width="13" height="15.3" fill="#7a8085"/><rect x="561.20" y="391.40" width="13" height="1.4" fill="#9aa0a4"/><rect x="561.40" y="393.00" width="1.4" height="10.5" fill="#d0d6da"/><rect x="562.90" y="393.90" width="9.3" height="9.2" fill="#5a6470"/><rect x="563.20" y="394.20" width="8.7" height="8.6" fill="url(#scr)"/><rect x="563.30" y="403.60" width="8.6" height="1.5" fill="#b88c52"/><rect x="573.40" y="391.40" width="0.8" height="15.3" fill="#54595e"/><line x1="552.1999999999999" y1="398.90000000000003" x2="555.9999999999999" y2="398.90000000000003" stroke="#6678c2" stroke-width="1"/><rect x="564.00" y="381.00" width="1.1" height="1.5" fill="#555"/><rect x="564.00" y="383.60" width="1.1" height="1.5" fill="#555"/><rect x="564.00" y="386.20" width="1.1" height="1.5" fill="#555"/><polygon points="584.10,271.00 588.60,269.50 602.30,269.50 602.30,285.40 589.60,285.50 584.10,284.10" fill="#686e72"/><polygon points="584.10,271.00 589.30,270.10 589.30,285.50 584.10,284.10" fill="#30353a"/><rect x="585.70" y="272.50" width="0.9" height="10" fill="#4a5054"/><rect x="589.30" y="270.10" width="13" height="15.3" fill="#7a8085"/><rect x="589.30" y="270.10" width="13" height="1.4" fill="#9aa0a4"/><rect x="589.50" y="271.70" width="1.4" height="10.5" fill="#d0d6da"/><rect x="591.00" y="272.60" width="9.3" height="9.2" fill="#5a6470"/><rect x="591.30" y="272.90" width="8.7" height="8.6" fill="url(#scr)"/><rect x="591.40" y="282.30" width="8.6" height="1.5" fill="#b88c52"/><rect x="601.50" y="270.10" width="0.8" height="15.3" fill="#54595e"/><line x1="580.3" y1="277.6" x2="584.0999999999999" y2="277.6" stroke="#6678c2" stroke-width="1"/><polygon points="584.10,293.30 588.60,291.80 602.30,291.80 602.30,307.70 589.60,307.80 584.10,306.40" fill="#686e72"/><polygon points="584.10,293.30 589.30,292.40 589.30,307.80 584.10,306.40" fill="#30353a"/><rect x="585.70" y="294.80" width="0.9" height="10" fill="#4a5054"/><rect x="589.30" y="292.40" width="13" height="15.3" fill="#7a8085"/><rect x="589.30" y="292.40" width="13" height="1.4" fill="#9aa0a4"/><rect x="589.50" y="294.00" width="1.4" height="10.5" fill="#d0d6da"/><rect x="591.00" y="294.90" width="9.3" height="9.2" fill="#5a6470"/><rect x="591.30" y="295.20" width="8.7" height="8.6" fill="url(#scr)"/><rect x="591.40" y="304.60" width="8.6" height="1.5" fill="#b88c52"/><rect x="601.50" y="292.40" width="0.8" height="15.3" fill="#54595e"/><line x1="580.3" y1="299.90000000000003" x2="584.0999999999999" y2="299.90000000000003" stroke="#6678c2" stroke-width="1"/><polygon points="584.10,315.60 588.60,314.10 602.30,314.10 602.30,330.00 589.60,330.10 584.10,328.70" fill="#686e72"/><polygon points="584.10,315.60 589.30,314.70 589.30,330.10 584.10,328.70" fill="#30353a"/><rect x="585.70" y="317.10" width="0.9" height="10" fill="#4a5054"/><rect x="589.30" y="314.70" width="13" height="15.3" fill="#7a8085"/><rect x="589.30" y="314.70" width="13" height="1.4" fill="#9aa0a4"/><rect x="589.50" y="316.30" width="1.4" height="10.5" fill="#d0d6da"/><rect x="591.00" y="317.20" width="9.3" height="9.2" fill="#5a6470"/><rect x="591.30" y="317.50" width="8.7" height="8.6" fill="url(#scr)"/><rect x="591.40" y="326.90" width="8.6" height="1.5" fill="#b88c52"/><rect x="601.50" y="314.70" width="0.8" height="15.3" fill="#54595e"/><line x1="580.3" y1="322.20000000000005" x2="584.0999999999999" y2="322.20000000000005" stroke="#6678c2" stroke-width="1"/><polygon points="584.10,338.00 588.60,336.50 602.30,336.50 602.30,352.40 589.60,352.50 584.10,351.10" fill="#686e72"/><polygon points="584.10,338.00 589.30,337.10 589.30,352.50 584.10,351.10" fill="#30353a"/><rect x="585.70" y="339.50" width="0.9" height="10" fill="#4a5054"/><rect x="589.30" y="337.10" width="13" height="15.3" fill="#7a8085"/><rect x="589.30" y="337.10" width="13" height="1.4" fill="#9aa0a4"/><rect x="589.50" y="338.70" width="1.4" height="10.5" fill="#d0d6da"/><rect x="591.00" y="339.60" width="9.3" height="9.2" fill="#5a6470"/><rect x="591.30" y="339.90" width="8.7" height="8.6" fill="url(#scr)"/><rect x="591.40" y="349.30" width="8.6" height="1.5" fill="#b88c52"/><rect x="601.50" y="337.10" width="0.8" height="15.3" fill="#54595e"/><line x1="580.3" y1="344.6" x2="584.0999999999999" y2="344.6" stroke="#6678c2" stroke-width="1"/><polygon points="584.10,360.30 588.60,358.80 602.30,358.80 602.30,374.70 589.60,374.80 584.10,373.40" fill="#686e72"/><polygon points="584.10,360.30 589.30,359.40 589.30,374.80 584.10,373.40" fill="#30353a"/><rect x="585.70" y="361.80" width="0.9" height="10" fill="#4a5054"/><rect x="589.30" y="359.40" width="13" height="15.3" fill="#7a8085"/><rect x="589.30" y="359.40" width="13" height="1.4" fill="#9aa0a4"/><rect x="589.50" y="361.00" width="1.4" height="10.5" fill="#d0d6da"/><rect x="591.00" y="361.90" width="9.3" height="9.2" fill="#5a6470"/><rect x="591.30" y="362.20" width="8.7" height="8.6" fill="url(#scr)"/><rect x="591.40" y="371.60" width="8.6" height="1.5" fill="#b88c52"/><rect x="601.50" y="359.40" width="0.8" height="15.3" fill="#54595e"/><line x1="580.3" y1="366.90000000000003" x2="584.0999999999999" y2="366.90000000000003" stroke="#6678c2" stroke-width="1"/><polygon points="584.10,392.30 588.60,390.80 602.30,390.80 602.30,406.70 589.60,406.80 584.10,405.40" fill="#686e72"/><polygon points="584.10,392.30 589.30,391.40 589.30,406.80 584.10,405.40" fill="#30353a"/><rect x="585.70" y="393.80" width="0.9" height="10" fill="#4a5054"/><rect x="589.30" y="391.40" width="13" height="15.3" fill="#7a8085"/><rect x="589.30" y="391.40" width="13" height="1.4" fill="#9aa0a4"/><rect x="589.50" y="393.00" width="1.4" height="10.5" fill="#d0d6da"/><rect x="591.00" y="393.90" width="9.3" height="9.2" fill="#5a6470"/><rect x="591.30" y="394.20" width="8.7" height="8.6" fill="url(#scr)"/><rect x="591.40" y="403.60" width="8.6" height="1.5" fill="#b88c52"/><rect x="601.50" y="391.40" width="0.8" height="15.3" fill="#54595e"/><line x1="580.3" y1="398.90000000000003" x2="584.0999999999999" y2="398.90000000000003" stroke="#6678c2" stroke-width="1"/><rect x="592.10" y="381.00" width="1.1" height="1.5" fill="#555"/><rect x="592.10" y="383.60" width="1.1" height="1.5" fill="#555"/><rect x="592.10" y="386.20" width="1.1" height="1.5" fill="#555"/><polygon points="613.40,271.00 617.90,269.50 631.60,269.50 631.60,285.40 618.90,285.50 613.40,284.10" fill="#686e72"/><polygon points="613.40,271.00 618.60,270.10 618.60,285.50 613.40,284.10" fill="#30353a"/><rect x="615.00" y="272.50" width="0.9" height="10" fill="#4a5054"/><rect x="618.60" y="270.10" width="13" height="15.3" fill="#7a8085"/><rect x="618.60" y="270.10" width="13" height="1.4" fill="#9aa0a4"/><rect x="618.80" y="271.70" width="1.4" height="10.5" fill="#d0d6da"/><rect x="620.30" y="272.60" width="9.3" height="9.2" fill="#5a6470"/><rect x="620.60" y="272.90" width="8.7" height="8.6" fill="url(#scr)"/><rect x="620.70" y="282.30" width="8.6" height="1.5" fill="#b88c52"/><rect x="630.80" y="270.10" width="0.8" height="15.3" fill="#54595e"/><line x1="609.5999999999999" y1="277.6" x2="613.3999999999999" y2="277.6" stroke="#6678c2" stroke-width="1"/><polygon points="613.40,293.30 617.90,291.80 631.60,291.80 631.60,307.70 618.90,307.80 613.40,306.40" fill="#686e72"/><polygon points="613.40,293.30 618.60,292.40 618.60,307.80 613.40,306.40" fill="#30353a"/><rect x="615.00" y="294.80" width="0.9" height="10" fill="#4a5054"/><rect x="618.60" y="292.40" width="13" height="15.3" fill="#7a8085"/><rect x="618.60" y="292.40" width="13" height="1.4" fill="#9aa0a4"/><rect x="618.80" y="294.00" width="1.4" height="10.5" fill="#d0d6da"/><rect x="620.30" y="294.90" width="9.3" height="9.2" fill="#5a6470"/><rect x="620.60" y="295.20" width="8.7" height="8.6" fill="url(#scr)"/><rect x="620.70" y="304.60" width="8.6" height="1.5" fill="#b88c52"/><rect x="630.80" y="292.40" width="0.8" height="15.3" fill="#54595e"/><line x1="609.5999999999999" y1="299.90000000000003" x2="613.3999999999999" y2="299.90000000000003" stroke="#6678c2" stroke-width="1"/><polygon points="613.40,315.60 617.90,314.10 631.60,314.10 631.60,330.00 618.90,330.10 613.40,328.70" fill="#686e72"/><polygon points="613.40,315.60 618.60,314.70 618.60,330.10 613.40,328.70" fill="#30353a"/><rect x="615.00" y="317.10" width="0.9" height="10" fill="#4a5054"/><rect x="618.60" y="314.70" width="13" height="15.3" fill="#7a8085"/><rect x="618.60" y="314.70" width="13" height="1.4" fill="#9aa0a4"/><rect x="618.80" y="316.30" width="1.4" height="10.5" fill="#d0d6da"/><rect x="620.30" y="317.20" width="9.3" height="9.2" fill="#5a6470"/><rect x="620.60" y="317.50" width="8.7" height="8.6" fill="url(#scr)"/><rect x="620.70" y="326.90" width="8.6" height="1.5" fill="#b88c52"/><rect x="630.80" y="314.70" width="0.8" height="15.3" fill="#54595e"/><line x1="609.5999999999999" y1="322.20000000000005" x2="613.3999999999999" y2="322.20000000000005" stroke="#6678c2" stroke-width="1"/><polygon points="613.40,338.00 617.90,336.50 631.60,336.50 631.60,352.40 618.90,352.50 613.40,351.10" fill="#686e72"/><polygon points="613.40,338.00 618.60,337.10 618.60,352.50 613.40,351.10" fill="#30353a"/><rect x="615.00" y="339.50" width="0.9" height="10" fill="#4a5054"/><rect x="618.60" y="337.10" width="13" height="15.3" fill="#7a8085"/><rect x="618.60" y="337.10" width="13" height="1.4" fill="#9aa0a4"/><rect x="618.80" y="338.70" width="1.4" height="10.5" fill="#d0d6da"/><rect x="620.30" y="339.60" width="9.3" height="9.2" fill="#5a6470"/><rect x="620.60" y="339.90" width="8.7" height="8.6" fill="url(#scr)"/><rect x="620.70" y="349.30" width="8.6" height="1.5" fill="#b88c52"/><rect x="630.80" y="337.10" width="0.8" height="15.3" fill="#54595e"/><line x1="609.5999999999999" y1="344.6" x2="613.3999999999999" y2="344.6" stroke="#6678c2" stroke-width="1"/><polygon points="613.40,360.30 617.90,358.80 631.60,358.80 631.60,374.70 618.90,374.80 613.40,373.40" fill="#686e72"/><polygon points="613.40,360.30 618.60,359.40 618.60,374.80 613.40,373.40" fill="#30353a"/><rect x="615.00" y="361.80" width="0.9" height="10" fill="#4a5054"/><rect x="618.60" y="359.40" width="13" height="15.3" fill="#7a8085"/><rect x="618.60" y="359.40" width="13" height="1.4" fill="#9aa0a4"/><rect x="618.80" y="361.00" width="1.4" height="10.5" fill="#d0d6da"/><rect x="620.30" y="361.90" width="9.3" height="9.2" fill="#5a6470"/><rect x="620.60" y="362.20" width="8.7" height="8.6" fill="url(#scr)"/><rect x="620.70" y="371.60" width="8.6" height="1.5" fill="#b88c52"/><rect x="630.80" y="359.40" width="0.8" height="15.3" fill="#54595e"/><line x1="609.5999999999999" y1="366.90000000000003" x2="613.3999999999999" y2="366.90000000000003" stroke="#6678c2" stroke-width="1"/><polygon points="613.40,392.30 617.90,390.80 631.60,390.80 631.60,406.70 618.90,406.80 613.40,405.40" fill="#686e72"/><polygon points="613.40,392.30 618.60,391.40 618.60,406.80 613.40,405.40" fill="#30353a"/><rect x="615.00" y="393.80" width="0.9" height="10" fill="#4a5054"/><rect x="618.60" y="391.40" width="13" height="15.3" fill="#7a8085"/><rect x="618.60" y="391.40" width="13" height="1.4" fill="#9aa0a4"/><rect x="618.80" y="393.00" width="1.4" height="10.5" fill="#d0d6da"/><rect x="620.30" y="393.90" width="9.3" height="9.2" fill="#5a6470"/><rect x="620.60" y="394.20" width="8.7" height="8.6" fill="url(#scr)"/><rect x="620.70" y="403.60" width="8.6" height="1.5" fill="#b88c52"/><rect x="630.80" y="391.40" width="0.8" height="15.3" fill="#54595e"/><line x1="609.5999999999999" y1="398.90000000000003" x2="613.3999999999999" y2="398.90000000000003" stroke="#6678c2" stroke-width="1"/><rect x="621.40" y="381.00" width="1.1" height="1.5" fill="#555"/><rect x="621.40" y="383.60" width="1.1" height="1.5" fill="#555"/><rect x="621.40" y="386.20" width="1.1" height="1.5" fill="#555"/><text x="544.8" y="415.9" font-size="9" text-anchor="start" font-weight="normal" fill="#1a1a1a" stroke="#1a1a1a" stroke-width="0.3" textLength="33.5" lengthAdjust="spacingAndGlyphs">ACR120E</text><text x="577.3" y="415.9" font-size="9" text-anchor="start" font-weight="normal" fill="#1a1a1a" stroke="#1a1a1a" stroke-width="0.3" textLength="32.7" lengthAdjust="spacingAndGlyphs">PZ72L-AI</text><text x="610.4" y="415.9" font-size="9" text-anchor="start" font-weight="normal" fill="#1a1a1a" stroke="#1a1a1a" stroke-width="0.3" textLength="37.5" lengthAdjust="spacingAndGlyphs">PZ72L-AI3</text><text x="581.3" y="430.8" font-size="10" text-anchor="start" font-weight="normal" fill="#1a1a1a" stroke="#1a1a1a" stroke-width="0.25">4#</text><text x="592.9" y="430.8" font-size="8.6" text-anchor="start" font-weight="normal" fill="#1a1a1a" stroke="#1a1a1a" stroke-width="0.32">楼</text><text x="176" y="233.2" font-size="9" text-anchor="middle" font-weight="normal" fill="#1a1a1a" stroke="#1a1a1a" stroke-width="0.32">串口</text><text x="176" y="244.6" font-size="9" text-anchor="middle" font-weight="normal" fill="#1a1a1a" stroke="#1a1a1a" stroke-width="0.32">服务器</text>
</svg>
</body></html>
